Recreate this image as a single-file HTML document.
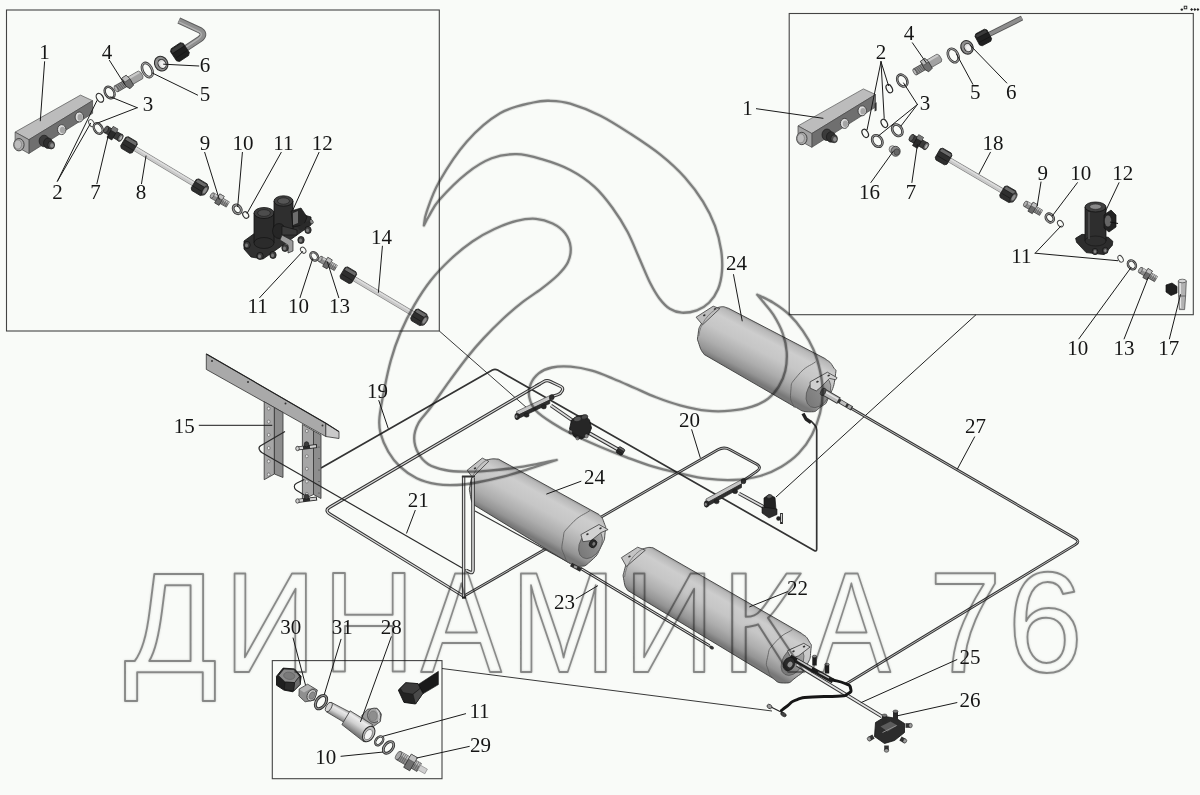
<!DOCTYPE html>
<html lang="ru">
<head>
<meta charset="utf-8">
<title>Схема пневмопривода — ДИНАМИКА 76</title>
<style>
html,body{margin:0;padding:0;background:#f9fbf8;}
body{width:1200px;height:795px;overflow:hidden;}
svg{display:block;will-change:transform;}
text.n{font-family:"Liberation Serif","Times New Roman",serif;fill:#151515;text-anchor:middle;}
.wm text{font-family:"Liberation Sans",Arial,sans-serif;fill:none;vector-effect:non-scaling-stroke;}
.wm text.wh{stroke:#000;stroke-opacity:.10;stroke-width:4.2;stroke-linejoin:round;}
.wm text.wl{stroke:#1c1c1c;stroke-opacity:.46;stroke-width:2.0;stroke-linejoin:round;filter:drop-shadow(0 0 0.9px rgba(0,0,0,.35));}
</style>
</head>
<body>
<svg width="1200" height="795" viewBox="0 0 1200 795">
<defs><linearGradient id="g1" gradientUnits="userSpaceOnUse" x1="728.3" y1="308.2" x2="704.2" y2="354.5"><stop offset="0" stop-color="#9a9a9a"/><stop offset="0.05" stop-color="#b8b8b8"/><stop offset="0.2" stop-color="#cdcdcd"/><stop offset="0.45" stop-color="#c6c6c6"/><stop offset="0.72" stop-color="#adadad"/><stop offset="0.9" stop-color="#949494"/><stop offset="1" stop-color="#787878"/></linearGradient><linearGradient id="g2" gradientUnits="userSpaceOnUse" x1="826.1" y1="377.6" x2="810.7" y2="406.8"><stop offset="0" stop-color="#aaaaaa"/><stop offset="0.45" stop-color="#8a8a8a"/><stop offset="1" stop-color="#777777"/></linearGradient><linearGradient id="g3" gradientUnits="userSpaceOnUse" x1="498.4" y1="459.1" x2="473.4" y2="504.5"><stop offset="0" stop-color="#9a9a9a"/><stop offset="0.05" stop-color="#b8b8b8"/><stop offset="0.2" stop-color="#cdcdcd"/><stop offset="0.45" stop-color="#c6c6c6"/><stop offset="0.72" stop-color="#adadad"/><stop offset="0.9" stop-color="#949494"/><stop offset="1" stop-color="#787878"/></linearGradient><linearGradient id="g4" gradientUnits="userSpaceOnUse" x1="598.2" y1="530.8" x2="582.8" y2="557.6"><stop offset="0" stop-color="#aaaaaa"/><stop offset="0.45" stop-color="#8a8a8a"/><stop offset="1" stop-color="#777777"/></linearGradient><linearGradient id="g5" gradientUnits="userSpaceOnUse" x1="652.8" y1="547.7" x2="628.1" y2="590.6"><stop offset="0" stop-color="#9a9a9a"/><stop offset="0.05" stop-color="#b8b8b8"/><stop offset="0.2" stop-color="#cdcdcd"/><stop offset="0.45" stop-color="#c6c6c6"/><stop offset="0.72" stop-color="#adadad"/><stop offset="0.9" stop-color="#949494"/><stop offset="1" stop-color="#787878"/></linearGradient><linearGradient id="g6" gradientUnits="userSpaceOnUse" x1="800" y1="648.5" x2="785" y2="674.5"><stop offset="0" stop-color="#aaaaaa"/><stop offset="0.45" stop-color="#8a8a8a"/><stop offset="1" stop-color="#777777"/></linearGradient><linearGradient id="g7" gradientUnits="userSpaceOnUse" x1="331.3" y1="702.4" x2="326.4" y2="711.4"><stop offset="0" stop-color="#a8a8a8"/><stop offset="0.25" stop-color="#e9e9e9"/><stop offset="0.6" stop-color="#d2d2d2"/><stop offset="1" stop-color="#8c8c8c"/></linearGradient><linearGradient id="g8" gradientUnits="userSpaceOnUse" x1="352" y1="710.5" x2="342.5" y2="725"><stop offset="0" stop-color="#a0a0a0"/><stop offset="0.22" stop-color="#ececec"/><stop offset="0.55" stop-color="#d0d0d0"/><stop offset="0.85" stop-color="#9a9a9a"/><stop offset="1" stop-color="#7a7a7a"/></linearGradient></defs>
<rect width="1200" height="795" fill="#f9fbf8"/>
<rect x="6.5" y="10" width="432.8" height="321" fill="none" stroke="#444" stroke-width="1.1"/>
<rect x="789.2" y="13.5" width="404.1" height="301.2" fill="none" stroke="#444" stroke-width="1.1"/>
<rect x="272.3" y="660.6" width="169.7" height="118.1" fill="none" stroke="#444" stroke-width="1.1"/>
<line x1="439.3" y1="331" x2="527" y2="408" stroke="#222" stroke-width="0.9" />
<line x1="976" y1="314.7" x2="776" y2="497" stroke="#222" stroke-width="1.0" />
<line x1="442" y1="668.5" x2="772" y2="711" stroke="#222" stroke-width="0.9" />
<path d="M321 468 L492.4 370.1 Q495 368.6 497.6 370.1 L814.1 550.5 Q816.7 552 816.7 549 L816.7 430 Q816.7 427 814.6 424.8 L811 421" fill="none" stroke="#333" stroke-width="1.7" stroke-linejoin="round"/>
<path d="M540 383.8 L330 507 Q324 510.5 330 514.2 L464 596.5" fill="none" stroke="#333" stroke-width="3.2" stroke-linejoin="round" stroke-linecap="butt"/>
<path d="M540 383.8 L330 507 Q324 510.5 330 514.2 L464 596.5" fill="none" stroke="#dcdcdc" stroke-width="1.2" stroke-linejoin="round" stroke-linecap="butt"/>
<path d="M464 596 L717.9 449.8 Q724 446.3 730.1 449.7 L756.4 464.1 Q762.5 467.5 756.7 471.4 L741.5 481.8" fill="none" stroke="#333" stroke-width="2.8" stroke-linejoin="round" stroke-linecap="butt"/>
<path d="M464 596 L717.9 449.8 Q724 446.3 730.1 449.7 L756.4 464.1 Q762.5 467.5 756.7 471.4 L741.5 481.8" fill="none" stroke="#dcdcdc" stroke-width="0.8" stroke-linejoin="round" stroke-linecap="butt"/>
<path d="M475 511 L570 563" fill="none" stroke="#333" stroke-width="1.2" />
<path d="M851 408.3 L1075.3 538.5 Q1080.5 541.5 1075.4 544.6 L846 684" fill="none" stroke="#333" stroke-width="2.8" stroke-linejoin="round" stroke-linecap="butt"/>
<path d="M851 408.3 L1075.3 538.5 Q1080.5 541.5 1075.4 544.6 L846 684" fill="none" stroke="#dcdcdc" stroke-width="0.8" stroke-linejoin="round" stroke-linecap="butt"/>
<polygon points="206.3,353.9 325.8,423.2 325.8,436.5 206.3,369.4" fill="#a9a9a9" stroke="#333" stroke-width="0.8" stroke-linejoin="round" />
<polygon points="325.8,423.2 339,431.6 339,438.5 325.8,436.5" fill="#c9c9c9" stroke="#333" stroke-width="0.8" stroke-linejoin="round" />
<path d="M206.3 353.9 L325.8 423.2 L339 431.6" fill="none" stroke="#222" stroke-width="1.1" />
<ellipse cx="212" cy="361" rx="1" ry="1" transform="rotate(0 212 361)" fill="#333" stroke="none" stroke-width="0" />
<ellipse cx="248" cy="382" rx="1" ry="1" transform="rotate(0 248 382)" fill="#333" stroke="none" stroke-width="0" />
<ellipse cx="285.5" cy="403.5" rx="1" ry="1" transform="rotate(0 285.5 403.5)" fill="#333" stroke="none" stroke-width="0" />
<ellipse cx="322.5" cy="425.5" rx="1" ry="1" transform="rotate(0 322.5 425.5)" fill="#333" stroke="none" stroke-width="0" />
<polygon points="264.2,401.7 274.4,407.5 274.4,474 264.2,479.7" fill="#a6a6a6" stroke="#333" stroke-width="0.8" stroke-linejoin="round" />
<polygon points="274.4,407.5 283,412.5 283,477.5 274.4,474" fill="#8d8d8d" stroke="#333" stroke-width="0.8" stroke-linejoin="round" />
<ellipse cx="268.7" cy="408.5" rx="1.4" ry="1.6" transform="rotate(0 268.7 408.5)" fill="#e6e6e6" stroke="#444" stroke-width="0.5" />
<ellipse cx="268.7" cy="421.7" rx="1.4" ry="1.6" transform="rotate(0 268.7 421.7)" fill="#e6e6e6" stroke="#444" stroke-width="0.5" />
<ellipse cx="268.7" cy="434.9" rx="1.4" ry="1.6" transform="rotate(0 268.7 434.9)" fill="#e6e6e6" stroke="#444" stroke-width="0.5" />
<ellipse cx="268.7" cy="448.1" rx="1.4" ry="1.6" transform="rotate(0 268.7 448.1)" fill="#e6e6e6" stroke="#444" stroke-width="0.5" />
<ellipse cx="268.7" cy="461.3" rx="1.4" ry="1.6" transform="rotate(0 268.7 461.3)" fill="#e6e6e6" stroke="#444" stroke-width="0.5" />
<ellipse cx="268.7" cy="474.5" rx="1.4" ry="1.6" transform="rotate(0 268.7 474.5)" fill="#e6e6e6" stroke="#444" stroke-width="0.5" />
<polygon points="302.4,424.4 313.5,430.8 313.5,494.5 302.4,499.7" fill="#a6a6a6" stroke="#333" stroke-width="0.8" stroke-linejoin="round" />
<polygon points="313.5,430.8 321,435 321,498.5 313.5,494.5" fill="#8d8d8d" stroke="#333" stroke-width="0.8" stroke-linejoin="round" />
<ellipse cx="306.8" cy="431" rx="1.4" ry="1.6" transform="rotate(0 306.8 431)" fill="#e6e6e6" stroke="#444" stroke-width="0.5" />
<ellipse cx="306.8" cy="443.6" rx="1.4" ry="1.6" transform="rotate(0 306.8 443.6)" fill="#e6e6e6" stroke="#444" stroke-width="0.5" />
<ellipse cx="306.8" cy="456.2" rx="1.4" ry="1.6" transform="rotate(0 306.8 456.2)" fill="#e6e6e6" stroke="#444" stroke-width="0.5" />
<ellipse cx="306.8" cy="468.8" rx="1.4" ry="1.6" transform="rotate(0 306.8 468.8)" fill="#e6e6e6" stroke="#444" stroke-width="0.5" />
<ellipse cx="306.8" cy="481.4" rx="1.4" ry="1.6" transform="rotate(0 306.8 481.4)" fill="#e6e6e6" stroke="#444" stroke-width="0.5" />
<ellipse cx="306.8" cy="494" rx="1.4" ry="1.6" transform="rotate(0 306.8 494)" fill="#e6e6e6" stroke="#444" stroke-width="0.5" />
<ellipse cx="319" cy="447" rx="0.6" ry="0.6" transform="rotate(0 319 447)" fill="#333" stroke="none" stroke-width="0" />
<ellipse cx="319" cy="458.5" rx="0.6" ry="0.6" transform="rotate(0 319 458.5)" fill="#333" stroke="none" stroke-width="0" />
<ellipse cx="319" cy="470" rx="0.6" ry="0.6" transform="rotate(0 319 470)" fill="#333" stroke="none" stroke-width="0" />
<ellipse cx="319" cy="481.5" rx="0.6" ry="0.6" transform="rotate(0 319 481.5)" fill="#333" stroke="none" stroke-width="0" />
<ellipse cx="319" cy="493" rx="0.6" ry="0.6" transform="rotate(0 319 493)" fill="#333" stroke="none" stroke-width="0" />
<path d="M304.3 479.4 L296.5 483.2 Q294.3 484.2 294.3 486.6 L294.3 486.6 Q294.3 489 296.4 490.2 L304.3 495" fill="none" stroke="#222" stroke-width="1.1" />
<line x1="297" y1="448.5" x2="317" y2="446" stroke="#2a2a2a" stroke-width="4.2" />
<line x1="298" y1="448.3" x2="303" y2="447.7" stroke="#d9d9d9" stroke-width="2.4" />
<line x1="310" y1="446.9" x2="316" y2="446.1" stroke="#cfcfcf" stroke-width="2.4" />
<ellipse cx="306.5" cy="444.3" rx="2.3" ry="2.6" transform="rotate(0 306.5 444.3)" fill="#3a3a3a" stroke="#111" stroke-width="0.5" />
<ellipse cx="297.5" cy="448.5" rx="1.8" ry="2.2" transform="rotate(0 297.5 448.5)" fill="#cfcfcf" stroke="#222" stroke-width="0.7" />
<line x1="297" y1="501" x2="317" y2="498.5" stroke="#2a2a2a" stroke-width="4.2" />
<line x1="298" y1="500.8" x2="303" y2="500.2" stroke="#d9d9d9" stroke-width="2.4" />
<line x1="310" y1="499.4" x2="316" y2="498.6" stroke="#cfcfcf" stroke-width="2.4" />
<ellipse cx="306.5" cy="496.8" rx="2.3" ry="2.6" transform="rotate(0 306.5 496.8)" fill="#3a3a3a" stroke="#111" stroke-width="0.5" />
<ellipse cx="297.5" cy="501" rx="1.8" ry="2.2" transform="rotate(0 297.5 501)" fill="#cfcfcf" stroke="#222" stroke-width="0.7" />
<path d="M285 431.6 L260.6 445.8 Q258.5 447 259.2 449.2 L259.2 449.2 Q260 451.5 262.1 452.7 L300 474.5" fill="none" stroke="#2a2a2a" stroke-width="1.2" />
<path d="M728.3 308.2 L824.9 358.5 C828.6 361.7 829.6 360.6 833 366.6 C836.4 372.6 836.5 366.6 835.2 376.6 C833.9 386.6 833.8 386.6 829 396.7 C824.2 406.8 827.6 401.8 820.9 406.8 C814.2 411.8 817.5 411.8 808.8 411.8 C800.1 411.8 800.3 409 794.7 406.8 L704.2 354.5 C701.6 350.6 701.1 351.1 699.1 344.4 C697.1 337.7 697.1 341.7 698.1 334.3 C699.1 326.9 698.1 329.7 702.1 322.3 C706.1 314.9 704.5 317.2 710.2 312.2 C715.9 307.2 713.3 308.5 719.3 307.2 C725.3 305.9 724.3 307.4 728.3 308.2Z" fill="url(#g1)" stroke="#3c3c3c" stroke-width="0.9" stroke-linejoin="round"/>
<path d="M815.6 361.8 C809.6 366.4 806 365.5 797.7 375.6 C789.4 385.7 791.9 381.6 790.7 392.2 C789.5 402.8 793 402.4 794.2 407.5" fill="none" stroke="#5a5a5a" stroke-width="0.8" />
<ellipse cx="818.4" cy="392.2" rx="11" ry="16.5" transform="rotate(28 818.4 392.2)" fill="url(#g2)" stroke="#555" stroke-width="0.7" />
<polygon points="696.1,317.2 713.2,306.2 719.8,308.6 702.5,324.8" fill="#bdbdbd" stroke="#3a3a3a" stroke-width="0.8" stroke-linejoin="round" />
<ellipse cx="704.3" cy="315.3" rx="1.3" ry="0.9" transform="rotate(-20 704.3 315.3)" fill="#333" stroke="none" stroke-width="0" />
<ellipse cx="715" cy="309" rx="1.3" ry="0.9" transform="rotate(-20 715 309)" fill="#333" stroke="none" stroke-width="0" />
<path d="M719.3 307.2 C708 313 700 324 698.8 336" fill="none" stroke="#666" stroke-width="0.7" />
<polygon points="810.1,381.9 827.4,372.2 837.1,377.7 835.7,379.8 829.5,378.4 819.8,388.1 816.3,390.9 810.1,388.1" fill="#d0d0d0" stroke="#3a3a3a" stroke-width="0.8" stroke-linejoin="round" />
<ellipse cx="817.5" cy="381.7" rx="1.3" ry="0.9" transform="rotate(-20 817.5 381.7)" fill="#333" stroke="none" stroke-width="0" />
<ellipse cx="828.7" cy="375.5" rx="1.3" ry="0.9" transform="rotate(-20 828.7 375.5)" fill="#333" stroke="none" stroke-width="0" />
<line x1="823.9" y1="392.2" x2="839" y2="400.9" stroke="#3a3a3a" stroke-width="7.2" />
<line x1="824.5" y1="392.5" x2="838.4" y2="400.5" stroke="#b9b9b9" stroke-width="5.4" />
<line x1="824.5" y1="391.4" x2="838.4" y2="399.4" stroke="#e4e4e4" stroke-width="1.6" />
<line x1="838" y1="400.3" x2="852" y2="408.4" stroke="#333" stroke-width="4.6" />
<line x1="840.5" y1="401.7" x2="846" y2="404.9" stroke="#bdbdbd" stroke-width="3.2" />
<line x1="848" y1="406.1" x2="851" y2="407.8" stroke="#a9a9a9" stroke-width="3.2" />
<ellipse cx="823.2" cy="391.8" rx="2.4" ry="4" transform="rotate(28 823.2 391.8)" fill="#555" stroke="#222" stroke-width="0.6" />
<path d="M803 413.5 L806 419 L811 422.5" fill="none" stroke="#222" stroke-width="3.4" stroke-linejoin="round"/>
<path d="M498.4 459.1 L599 514.5 C601.7 517.7 602 516.5 604 522.5 C606 528.5 606.1 524.5 605.1 532.6 C604.1 540.7 605.7 537.3 601 546.7 C596.3 556.1 598.4 554.2 591 560.8 C583.6 567.4 586.3 565.7 578.9 566.4 C571.5 567.1 573.1 564.6 568.8 562.8 L473.2 504.4 C471.2 500.4 471.2 501 470.2 494.3 C469.2 487.6 468.9 491.7 470.2 484.3 C471.5 476.9 471.2 478.9 474.2 472.2 C477.2 465.5 475.3 468.2 479.3 464.2 C483.3 460.2 479.9 461.8 486.3 460.1 C492.7 458.4 493.4 458.9 498.4 459.1Z" fill="url(#g3)" stroke="#3c3c3c" stroke-width="0.9" stroke-linejoin="round"/>
<path d="M590 510.5 C583.6 515.2 579.9 514.5 570.8 524.5 C561.7 534.5 564.8 529.9 562.8 540.6 C560.8 551.3 562.1 549 564.8 556.7 C567.5 564.4 568.8 561.4 570.8 563.8" fill="none" stroke="#5a5a5a" stroke-width="0.8" />
<ellipse cx="590.5" cy="544.2" rx="10.5" ry="15.5" transform="rotate(30 590.5 544.2)" fill="url(#g4)" stroke="#555" stroke-width="0.7" />
<polygon points="467.2,470.2 482.3,458.1 488.8,461.3 472.5,477.5" fill="#c4c4c4" stroke="#3a3a3a" stroke-width="0.8" stroke-linejoin="round" />
<ellipse cx="475" cy="468.3" rx="1.3" ry="0.9" transform="rotate(-20 475 468.3)" fill="#333" stroke="none" stroke-width="0" />
<path d="M486.3 460.1 C477 466 471 476 470.6 487" fill="none" stroke="#666" stroke-width="0.7" />
<polygon points="580.9,534.6 599,524.5 608.1,529.6 601,532.6 591,540.6 582.9,541.7" fill="#d2d2d2" stroke="#3a3a3a" stroke-width="0.8" stroke-linejoin="round" />
<ellipse cx="587.5" cy="534.2" rx="1.3" ry="0.9" transform="rotate(-20 587.5 534.2)" fill="#333" stroke="none" stroke-width="0" />
<ellipse cx="600.5" cy="528.3" rx="1.3" ry="0.9" transform="rotate(-20 600.5 528.3)" fill="#333" stroke="none" stroke-width="0" />
<ellipse cx="593" cy="543.7" rx="3.6" ry="4.2" transform="rotate(30 593 543.7)" fill="#2a2a2a" stroke="#111" stroke-width="0.6" />
<ellipse cx="593.8" cy="543.9" rx="1.4" ry="1.8" transform="rotate(30 593.8 543.9)" fill="#777" stroke="none" stroke-width="0" />
<path d="M300 474.5 L466.5 570.6" fill="none" stroke="#2a2a2a" stroke-width="1.2" />
<path d="M466 570.3 L469.8 572.1 Q473 573.6 473 570.1 L473 478" fill="none" stroke="#333" stroke-width="3.6" stroke-linejoin="round" stroke-linecap="butt"/>
<path d="M466 570.3 L469.8 572.1 Q473 573.6 473 570.1 L473 478" fill="none" stroke="#dcdcdc" stroke-width="1.6" stroke-linejoin="round" stroke-linecap="butt"/>
<path d="M463.6 476 L463.6 597.5" fill="none" stroke="#333" stroke-width="3.4" stroke-linejoin="round" stroke-linecap="butt"/>
<path d="M463.6 476 L463.6 597.5" fill="none" stroke="#dcdcdc" stroke-width="1.4" stroke-linejoin="round" stroke-linecap="butt"/>
<line x1="461.9" y1="476.5" x2="475" y2="476.5" stroke="#333" stroke-width="2.0" />
<line x1="462" y1="597.6" x2="466" y2="597.6" stroke="#222" stroke-width="2.2" />
<path d="M580 568 L709.5 645.7" fill="none" stroke="#333" stroke-width="3.0" stroke-linejoin="round" stroke-linecap="butt"/>
<path d="M580 568 L709.5 645.7" fill="none" stroke="#dcdcdc" stroke-width="1" stroke-linejoin="round" stroke-linecap="butt"/>
<line x1="571" y1="564.5" x2="581" y2="570" stroke="#2a2a2a" stroke-width="4.2" />
<line x1="574" y1="566.2" x2="577" y2="567.8" stroke="#999" stroke-width="2.2" />
<path d="M652.8 547.7 L801.3 633.2 C805.3 636.6 805.6 634.9 808.8 640.8 C812 646.7 811.6 642.4 810.8 650.8 C810 659.2 811.2 657.1 806.3 665.9 C801.4 674.7 803.8 671.5 796.2 677.2 C788.6 682.9 792 683 783.6 683 C775.2 683 776.7 680 771.1 677.2 L627.7 590.4 C625 586.2 625 587.1 623.9 580.4 C622.8 573.7 622.7 577 624.4 570.3 C626.1 563.6 625.3 566.2 628.9 560.3 C632.5 554.4 630.6 556.5 635.2 552.7 C639.8 548.9 636.9 550.6 642.8 548.9 C648.7 547.2 648 547.2 652.8 547.7Z" fill="url(#g5)" stroke="#3c3c3c" stroke-width="0.9" stroke-linejoin="round"/>
<path d="M792.5 629.5 C786.8 633.7 783.8 632.7 775.5 642 C767.2 651.3 769.8 647.8 767.5 657.5 C765.2 667.2 766.7 664.2 768.5 671 C770.3 677.8 771.5 675.7 773 678" fill="none" stroke="#5a5a5a" stroke-width="0.8" />
<ellipse cx="792.5" cy="661.5" rx="10" ry="15" transform="rotate(30 792.5 661.5)" fill="url(#g6)" stroke="#555" stroke-width="0.7" />
<polygon points="621.4,557.7 637.7,547.2 645.3,550.2 626.4,566.5" fill="#c4c4c4" stroke="#3a3a3a" stroke-width="0.8" stroke-linejoin="round" />
<ellipse cx="629.5" cy="556.5" rx="1.3" ry="0.9" transform="rotate(-20 629.5 556.5)" fill="#333" stroke="none" stroke-width="0" />
<path d="M642.8 548.9 C633 554 626 565 624.6 577" fill="none" stroke="#666" stroke-width="0.7" />
<polygon points="787.4,650.8 803.8,643.3 810.1,647 798.7,655.8 791.2,658.4" fill="#d2d2d2" stroke="#3a3a3a" stroke-width="0.8" stroke-linejoin="round" />
<ellipse cx="793.5" cy="651.3" rx="1.3" ry="0.9" transform="rotate(-20 793.5 651.3)" fill="#333" stroke="none" stroke-width="0" />
<ellipse cx="804" cy="646.6" rx="1.3" ry="0.9" transform="rotate(-20 804 646.6)" fill="#333" stroke="none" stroke-width="0" />
<ellipse cx="711.5" cy="647.5" rx="2.6" ry="1.6" transform="rotate(30 711.5 647.5)" fill="#333" stroke="none" stroke-width="0" />
<line x1="790" y1="657" x2="833" y2="681" stroke="#1f1f1f" stroke-width="5.0" />
<line x1="797" y1="659.8" x2="812" y2="668.2" stroke="#c9c9c9" stroke-width="1.6" />
<line x1="818" y1="671.8" x2="829" y2="678" stroke="#bdbdbd" stroke-width="1.4" />
<line x1="814.5" y1="656.5" x2="814.5" y2="665.5" stroke="#1f1f1f" stroke-width="4.4" />
<ellipse cx="814.5" cy="656.5" rx="2.2" ry="1.3" transform="rotate(0 814.5 656.5)" fill="#8a8a8a" stroke="#111" stroke-width="0.5" />
<line x1="827" y1="664.5" x2="827" y2="673.5" stroke="#1f1f1f" stroke-width="4.4" />
<ellipse cx="827" cy="664.5" rx="2.2" ry="1.3" transform="rotate(0 827 664.5)" fill="#8a8a8a" stroke="#111" stroke-width="0.5" />
<ellipse cx="789" cy="664" rx="5.5" ry="7" transform="rotate(30 789 664)" fill="#2b2b2b" stroke="#111" stroke-width="0.6" />
<ellipse cx="790" cy="664.5" rx="2.3" ry="3" transform="rotate(30 790 664.5)" fill="#8d8d8d" stroke="none" stroke-width="0" />
<path d="M797 664.8 L882 716.5" fill="none" stroke="#333" stroke-width="3.8" stroke-linejoin="round" stroke-linecap="butt"/>
<path d="M797 664.8 L882 716.5" fill="none" stroke="#e4e4e4" stroke-width="1.8" stroke-linejoin="round" stroke-linecap="butt"/>
<path d="M833 680 C837 681.2 839.2 680.8 845 683.5 C850.8 686.2 849.7 684.5 850.5 688 C851.3 691.5 852 691.3 847.5 694 C843 696.7 848.6 695.2 837 696.2 C825.4 697.2 826 696 812.7 697.1 C799.4 698.2 805.7 696.7 797.2 699.6 C788.7 702.5 792.5 702.3 787.3 705.9 C782.1 709.5 783.4 709 781.5 710.5" fill="none" stroke="#161616" stroke-width="3.0" stroke-linecap="round"/>
<line x1="769" y1="706" x2="784" y2="713.5" stroke="#222" stroke-width="1.2" />
<ellipse cx="769.5" cy="706.5" rx="2.6" ry="2" transform="rotate(30 769.5 706.5)" fill="#9a9a9a" stroke="#222" stroke-width="0.7" />
<ellipse cx="783.5" cy="714.5" rx="3" ry="1.8" transform="rotate(30 783.5 714.5)" fill="#444" stroke="#111" stroke-width="0.6" />
<polygon points="875.5,722.5 885.5,716.5 896.5,718.5 904.5,723.5 904.5,732.5 894.5,740.5 884.5,743.5 874.5,736.5" fill="#2c2c2c" stroke="#111" stroke-width="0.8" stroke-linejoin="round" />
<line x1="884.5" y1="715.5" x2="884.5" y2="724.5" stroke="#2a2a2a" stroke-width="5.0" />
<ellipse cx="884.5" cy="715.5" rx="2.5" ry="1.5" transform="rotate(0 884.5 715.5)" fill="#7a7a7a" stroke="#111" stroke-width="0.5" />
<line x1="895.5" y1="711.5" x2="895.5" y2="720.5" stroke="#2a2a2a" stroke-width="5.0" />
<ellipse cx="895.5" cy="711.5" rx="2.5" ry="1.5" transform="rotate(0 895.5 711.5)" fill="#7a7a7a" stroke="#111" stroke-width="0.5" />
<line x1="873.5" y1="736.5" x2="869.2" y2="739" stroke="#333" stroke-width="4.6" />
<ellipse cx="869.2" cy="739" rx="1.8" ry="2.2" transform="rotate(150 869.2 739)" fill="#9c9c9c" stroke="#111" stroke-width="0.5" />
<line x1="886.5" y1="745.5" x2="886.5" y2="750.5" stroke="#333" stroke-width="4.6" />
<ellipse cx="886.5" cy="750.5" rx="1.8" ry="2.2" transform="rotate(90 886.5 750.5)" fill="#9c9c9c" stroke="#111" stroke-width="0.5" />
<line x1="900.5" y1="738.5" x2="904.8" y2="741" stroke="#333" stroke-width="4.6" />
<ellipse cx="904.8" cy="741" rx="1.8" ry="2.2" transform="rotate(30 904.8 741)" fill="#9c9c9c" stroke="#111" stroke-width="0.5" />
<line x1="905.5" y1="725.5" x2="910.5" y2="725.5" stroke="#333" stroke-width="4.6" />
<ellipse cx="910.5" cy="725.5" rx="1.8" ry="2.2" transform="rotate(0 910.5 725.5)" fill="#9c9c9c" stroke="#111" stroke-width="0.5" />
<polygon points="880.5,726.5 890.5,721.5 897.5,725.5 887.5,731.5" fill="#5c5c5c" stroke="none" stroke-width="0" stroke-linejoin="round" />
<line x1="882.5" y1="732.5" x2="896.5" y2="725.5" stroke="#8a8a8a" stroke-width="1.0" />
<path d="M536 386.2 L543.4 381.8 Q546.8 379.8 550.4 381.5 L560.6 386.4 Q563.6 387.8 562.2 390.8 L562.2 390.8 Q560.8 393.8 557.6 394.8 L551.5 396.6" fill="none" stroke="#333" stroke-width="3.2" stroke-linejoin="round" stroke-linecap="butt"/>
<path d="M536 386.2 L543.4 381.8 Q546.8 379.8 550.4 381.5 L560.6 386.4 Q563.6 387.8 562.2 390.8 L562.2 390.8 Q560.8 393.8 557.6 394.8 L551.5 396.6" fill="none" stroke="#dcdcdc" stroke-width="1.2" stroke-linejoin="round" stroke-linecap="butt"/>
<polygon points="516.6,411.4 549.8,395.6 549.8,400 516.6,415.8" fill="#c4c4c4" stroke="#333" stroke-width="0.6" stroke-linejoin="round" />
<polygon points="516.6,415.8 549.8,400 549.8,403.6 516.6,419.4" fill="#2f2f2f" stroke="#161616" stroke-width="0.6" stroke-linejoin="round" />
<ellipse cx="517.1" cy="416.4" rx="2.3" ry="3.2" transform="rotate(0 517.1 416.4)" fill="#2a2a2a" stroke="#111" stroke-width="0.5" />
<ellipse cx="516.4" cy="416.6" rx="1" ry="1.5" transform="rotate(0 516.4 416.6)" fill="#8a8a8a" stroke="none" stroke-width="0" />
<ellipse cx="526.6" cy="415.1" rx="2.6" ry="2.2" transform="rotate(0 526.6 415.1)" fill="#262626" stroke="#111" stroke-width="0.4" />
<ellipse cx="543.8" cy="406.8" rx="2.6" ry="2.2" transform="rotate(0 543.8 406.8)" fill="#262626" stroke="#111" stroke-width="0.4" />
<ellipse cx="551.8" cy="397.2" rx="2.4" ry="2.6" transform="rotate(0 551.8 397.2)" fill="#2f2f2f" stroke="#111" stroke-width="0.4" />
<path d="M551 405.5 L574 421.5" fill="none" stroke="#333" stroke-width="3.6" stroke-linejoin="round" stroke-linecap="butt"/>
<path d="M551 405.5 L574 421.5" fill="none" stroke="#dcdcdc" stroke-width="1.6" stroke-linejoin="round" stroke-linecap="butt"/>
<path d="M588 432.5 L619 450" fill="none" stroke="#333" stroke-width="3.8" stroke-linejoin="round" stroke-linecap="butt"/>
<path d="M588 432.5 L619 450" fill="none" stroke="#dcdcdc" stroke-width="1.8" stroke-linejoin="round" stroke-linecap="butt"/>
<polygon points="618.8,447.2 620.1,446.8 624.3,449.3 624.7,450.6 622.2,454.8 620.9,455.2 616.7,452.7 616.3,451.4" fill="#2e2e2e" stroke="#141414" stroke-width="0.8" stroke-linejoin="round" />
<polygon points="619.6,447.1 624.3,449.8 623.7,451.4 618.6,448.4" fill="#6a6a6a" stroke="none" stroke-width="0" stroke-linejoin="round" />
<line x1="618.5" y1="448.4" x2="623.8" y2="451.5" stroke="#111" stroke-width="0.6" />
<line x1="617.2" y1="450.5" x2="622.5" y2="453.6" stroke="#111" stroke-width="0.6" />
<polygon points="569.5,429 571.5,420 577.5,416 584.5,415 589.5,420 591.5,428 588.5,435 581.5,439 574.5,437" fill="#262626" stroke="#101010" stroke-width="0.8" stroke-linejoin="round" />
<ellipse cx="577.5" cy="419" rx="4" ry="2.6" transform="rotate(-15 577.5 419)" fill="#555" stroke="#111" stroke-width="0.5" />
<ellipse cx="584.5" cy="417" rx="3.4" ry="2.2" transform="rotate(-15 584.5 417)" fill="#4a4a4a" stroke="#111" stroke-width="0.5" />
<ellipse cx="570.5" cy="432" rx="1.8" ry="2" transform="rotate(0 570.5 432)" fill="#888" stroke="#111" stroke-width="0.4" />
<ellipse cx="577.5" cy="438" rx="1.8" ry="2" transform="rotate(0 577.5 438)" fill="#888" stroke="#111" stroke-width="0.4" />
<ellipse cx="586.5" cy="436" rx="1.8" ry="2" transform="rotate(0 586.5 436)" fill="#888" stroke="#111" stroke-width="0.4" />
<polygon points="706,499 741.5,479.6 741.5,484 706,503.4" fill="#c4c4c4" stroke="#333" stroke-width="0.6" stroke-linejoin="round" />
<polygon points="706,503.4 741.5,484 741.5,487.6 706,507" fill="#2f2f2f" stroke="#161616" stroke-width="0.6" stroke-linejoin="round" />
<ellipse cx="706.5" cy="504" rx="2.3" ry="3.2" transform="rotate(0 706.5 504)" fill="#2a2a2a" stroke="#111" stroke-width="0.5" />
<ellipse cx="705.8" cy="504.2" rx="1" ry="1.5" transform="rotate(0 705.8 504.2)" fill="#8a8a8a" stroke="none" stroke-width="0" />
<ellipse cx="716.6" cy="501.6" rx="2.6" ry="2.2" transform="rotate(0 716.6 501.6)" fill="#262626" stroke="#111" stroke-width="0.4" />
<ellipse cx="735.1" cy="491.5" rx="2.6" ry="2.2" transform="rotate(0 735.1 491.5)" fill="#262626" stroke="#111" stroke-width="0.4" />
<ellipse cx="743.5" cy="481.2" rx="2.4" ry="2.6" transform="rotate(0 743.5 481.2)" fill="#2f2f2f" stroke="#111" stroke-width="0.4" />
<path d="M739 493.5 L763.5 506.8" fill="none" stroke="#333" stroke-width="3.6" stroke-linejoin="round" stroke-linecap="butt"/>
<path d="M739 493.5 L763.5 506.8" fill="none" stroke="#dcdcdc" stroke-width="1.6" stroke-linejoin="round" stroke-linecap="butt"/>
<polygon points="764,498 769,494.5 775,497.5 776,510 770,514 764,510.5" fill="#222" stroke="#111" stroke-width="0.7" stroke-linejoin="round" />
<polygon points="762,507 777,509 777,514.5 769,518 762,513" fill="#2d2d2d" stroke="#111" stroke-width="0.6" stroke-linejoin="round" />
<ellipse cx="769.5" cy="496.5" rx="2.8" ry="1.8" transform="rotate(-10 769.5 496.5)" fill="#5a5a5a" stroke="#111" stroke-width="0.4" />
<line x1="781.5" y1="513" x2="781.5" y2="524" stroke="#2a2a2a" stroke-width="2.8" />
<line x1="781.5" y1="514" x2="781.5" y2="522" stroke="#cfcfcf" stroke-width="1.0" />
<ellipse cx="778.5" cy="518.5" rx="2.2" ry="2.2" transform="rotate(0 778.5 518.5)" fill="#222" stroke="none" stroke-width="0" />
<path d="M184 49.5 L199.5 39.2 Q206 34.6 200.5 30.6 L178.8 20.6" fill="none" stroke="#5d5d5d" stroke-width="6.6" stroke-linecap="butt" stroke-linejoin="round"/>
<path d="M184 49.5 L199.5 39.2 Q206 34.6 200.5 30.6 L178.8 20.6" fill="none" stroke="#8f8f8f" stroke-width="4.8" stroke-linecap="butt" stroke-linejoin="round"/>
<path d="M184 48.4 L198.6 38.6 Q203.6 34.8 199.6 31.8 L179.2 22.0" fill="none" stroke="#b2b2b2" stroke-width="1.3" />
<polygon points="170.5,51.7 171.2,48.7 180.3,42.7 183.3,43.4 189.3,52.5 188.6,55.5 179.5,61.5 176.5,60.8" fill="#1f1f1f" stroke="#141414" stroke-width="0.8" stroke-linejoin="round" />
<polygon points="171.2,49.9 181.4,43.3 183.9,46 172.7,53.3" fill="#3b3b3b" stroke="none" stroke-width="0" stroke-linejoin="round" />
<line x1="172.7" y1="53.5" x2="184.1" y2="46.1" stroke="#111" stroke-width="0.6" />
<line x1="175.7" y1="58.1" x2="187.1" y2="50.7" stroke="#111" stroke-width="0.6" />
<ellipse cx="161.2" cy="63.6" rx="6.5" ry="7.6" transform="rotate(-28 161.2 63.6)" fill="#8f8f8f" stroke="#2e2e2e" stroke-width="1.1" />
<ellipse cx="162" cy="63.9" rx="3.8" ry="4.7" transform="rotate(-28 162 63.9)" fill="#d9d9d9" stroke="#333" stroke-width="0.9" />
<ellipse cx="162.8" cy="64.4" rx="2.4" ry="3.2" transform="rotate(-28 162.8 64.4)" fill="#f0f0f0" stroke="none" stroke-width="0" />
<ellipse cx="147.3" cy="70" rx="4.6" ry="7.6" transform="rotate(-28 147.3 70)" fill="none" stroke="#333" stroke-width="2.6" />
<ellipse cx="147.3" cy="70" rx="4.6" ry="7.6" transform="rotate(-28 147.3 70)" fill="none" stroke="#a9a9a9" stroke-width="1.0" />
<polygon points="127.5,77.3 138.3,71 140.8,72.4 143,76.2 142.7,78.7 131.9,84.9" fill="#a2a2a2" stroke="#4a4a4a" stroke-width="0.7" stroke-linejoin="round" />
<polygon points="127.7,77.6 138.5,71.4 140,73 128.8,79.5" fill="#c9c9c9" stroke="none" stroke-width="0" stroke-linejoin="round" />
<polygon points="114.5,85.9 124.5,80.2 127.9,86 117.9,91.8" fill="#8a8a8a" stroke="#3c3c3c" stroke-width="0.7" stroke-linejoin="round" />
<line x1="115.8" y1="85.2" x2="119.9" y2="90.6" stroke="#444" stroke-width="0.6" />
<line x1="117.6" y1="84.2" x2="121.7" y2="89.6" stroke="#444" stroke-width="0.6" />
<line x1="119.3" y1="83.2" x2="123.4" y2="88.6" stroke="#444" stroke-width="0.6" />
<line x1="121" y1="82.2" x2="125.1" y2="87.6" stroke="#444" stroke-width="0.6" />
<ellipse cx="116.2" cy="88.8" rx="1.4" ry="3.4" transform="rotate(-30 116.2 88.8)" fill="#b5b5b5" stroke="#3c3c3c" stroke-width="0.6" />
<polygon points="121.7,78.3 126.1,75.3 129.9,78.7 133.6,85.1 130,88.7 125.9,86.2" fill="#6f6f6f" stroke="#2a2a2a" stroke-width="0.8" stroke-linejoin="round" />
<polygon points="121.7,78.3 126.1,75.3 129.9,78.7 125,82.1" fill="#bdbdbd" stroke="#2a2a2a" stroke-width="0.5" stroke-linejoin="round" />
<ellipse cx="109.6" cy="92.5" rx="4.4" ry="6.2" transform="rotate(-32 109.6 92.5)" fill="none" stroke="#303030" stroke-width="2.4" />
<ellipse cx="109.6" cy="92.5" rx="4.4" ry="6.2" transform="rotate(-32 109.6 92.5)" fill="none" stroke="#9b9b9b" stroke-width="0.8" />
<ellipse cx="99.9" cy="97.8" rx="3.2" ry="4.8" transform="rotate(-32 99.9 97.8)" fill="none" stroke="#2a2a2a" stroke-width="1.2" />
<polygon points="15.1,132.1 80.5,95.1 92.6,100.7 28.9,139.7" fill="#bcbcbc" stroke="#555" stroke-width="0.7" stroke-linejoin="round" />
<polygon points="28.9,139.7 92.6,100.7 92.6,113.3 28.9,153.5" fill="#6f6f6f" stroke="#444" stroke-width="0.7" stroke-linejoin="round" />
<polygon points="15.1,132.1 28.9,139.7 28.9,153.5 15.1,145.9" fill="#a3a3a3" stroke="#444" stroke-width="0.7" stroke-linejoin="round" />
<ellipse cx="18.9" cy="144.7" rx="5.2" ry="6.2" transform="rotate(0 18.9 144.7)" fill="#a8a8a8" stroke="#3a3a3a" stroke-width="0.9" />
<ellipse cx="17.9" cy="144.5" rx="3.6" ry="4.6" transform="rotate(0 17.9 144.5)" fill="#bdbdbd" stroke="#666" stroke-width="0.5" />
<ellipse cx="61.7" cy="129.6" rx="4.2" ry="5" transform="rotate(0 61.7 129.6)" fill="#dcdcdc" stroke="#3a3a3a" stroke-width="0.9" />
<ellipse cx="79.3" cy="117" rx="4.2" ry="5" transform="rotate(0 79.3 117)" fill="#dcdcdc" stroke="#3a3a3a" stroke-width="0.9" />
<ellipse cx="62.5" cy="130" rx="2.6" ry="3.3" transform="rotate(0 62.5 130)" fill="#a5a5a5" stroke="none" stroke-width="0" />
<ellipse cx="80.1" cy="117.4" rx="2.6" ry="3.3" transform="rotate(0 80.1 117.4)" fill="#a5a5a5" stroke="none" stroke-width="0" />
<ellipse cx="44.1" cy="141" rx="5" ry="5.8" transform="rotate(0 44.1 141)" fill="#3b3b3b" stroke="#1a1a1a" stroke-width="0.7" />
<ellipse cx="48.1" cy="143.2" rx="4.6" ry="5.2" transform="rotate(0 48.1 143.2)" fill="#2f2f2f" stroke="#1a1a1a" stroke-width="0.7" />
<ellipse cx="51.2" cy="145" rx="3.4" ry="4" transform="rotate(0 51.2 145)" fill="#4a4a4a" stroke="#1a1a1a" stroke-width="0.7" />
<ellipse cx="52" cy="145.4" rx="1.8" ry="2.2" transform="rotate(0 52 145.4)" fill="#8c8c8c" stroke="none" stroke-width="0" />
<ellipse cx="91.5" cy="123.2" rx="2.4" ry="3.8" transform="rotate(-30 91.5 123.2)" fill="none" stroke="#555" stroke-width="1.0" />
<ellipse cx="98.2" cy="128.5" rx="3.9" ry="5.6" transform="rotate(-32 98.2 128.5)" fill="none" stroke="#303030" stroke-width="2.4" />
<ellipse cx="98.2" cy="128.5" rx="3.9" ry="5.6" transform="rotate(-32 98.2 128.5)" fill="none" stroke="#9b9b9b" stroke-width="0.8" />
<polygon points="107.9,126.4 122.2,134.6 118.6,140.9 104.3,132.6" fill="#3a3a3a" stroke="#161616" stroke-width="0.7" stroke-linejoin="round" />
<ellipse cx="106.1" cy="129.5" rx="2" ry="3.8" transform="rotate(30 106.1 129.5)" fill="#5a5a5a" stroke="#161616" stroke-width="0.6" />
<polygon points="113.2,126.4 118,129.2 111.8,140 107,137.2" fill="#2a2a2a" stroke="#111" stroke-width="0.7" stroke-linejoin="round" />
<polygon points="113.2,126.4 118,129.2 116,132.7 111.2,129.9" fill="#777" stroke="none" stroke-width="0" stroke-linejoin="round" />
<ellipse cx="120.4" cy="137.8" rx="2.2" ry="4" transform="rotate(30 120.4 137.8)" fill="#666" stroke="#161616" stroke-width="0.6" />
<ellipse cx="120.8" cy="138" rx="1" ry="2.2" transform="rotate(30 120.8 138)" fill="#b5b5b5" stroke="none" stroke-width="0" />
<line x1="129" y1="145" x2="199.5" y2="187.2" stroke="#7d7d7d" stroke-width="5.4"/>
<line x1="129" y1="145" x2="199.5" y2="187.2" stroke="#c9c9c9" stroke-width="4.1"/>
<line x1="129.5" y1="144.2" x2="200" y2="186.4" stroke="#dedede" stroke-width="1.4"/>
<polygon points="125.7,137.3 128.3,136.7 136.7,141.7 137.3,144.3 132.3,152.7 129.7,153.3 121.3,148.3 120.7,145.7" fill="#2e2e2e" stroke="#141414" stroke-width="0.8" stroke-linejoin="round" />
<polygon points="127.3,137.2 136.7,142.8 135.5,145.9 125.2,139.7" fill="#6a6a6a" stroke="none" stroke-width="0" stroke-linejoin="round" />
<line x1="125" y1="139.8" x2="135.5" y2="146" stroke="#111" stroke-width="0.6" />
<line x1="122.5" y1="144" x2="133" y2="150.2" stroke="#111" stroke-width="0.6" />
<polygon points="196.2,179.5 198.8,178.9 207.2,183.9 207.8,186.5 202.8,194.9 200.2,195.5 191.8,190.5 191.2,187.9" fill="#2e2e2e" stroke="#141414" stroke-width="0.8" stroke-linejoin="round" />
<polygon points="197.8,179.4 207.2,185 206,188.1 195.7,181.9" fill="#6a6a6a" stroke="none" stroke-width="0" stroke-linejoin="round" />
<line x1="195.5" y1="182" x2="206" y2="188.2" stroke="#111" stroke-width="0.6" />
<line x1="193" y1="186.2" x2="203.5" y2="192.4" stroke="#111" stroke-width="0.6" />
<ellipse cx="205" cy="190.5" rx="2.4" ry="5.3" transform="rotate(30.9 205 190.5)" fill="#555" stroke="#141414" stroke-width="0.6" />
<ellipse cx="205" cy="190.5" rx="1.4" ry="3.1" transform="rotate(30.9 205 190.5)" fill="#8d8d8d" stroke="none" stroke-width="0" />
<polygon points="213.7,192.9 229.3,201.9 226.3,207.1 210.7,198.1" fill="#8c8c8c" stroke="#3a3a3a" stroke-width="0.7" stroke-linejoin="round" />
<polygon points="213.7,192.9 229.3,201.9 228.2,203.8 212.6,194.8" fill="#c6c6c6" stroke="none" stroke-width="0" stroke-linejoin="round" />
<line x1="224.5" y1="199.2" x2="221.5" y2="204.3" stroke="#444" stroke-width="0.6" />
<line x1="226.3" y1="200.2" x2="223.3" y2="205.3" stroke="#444" stroke-width="0.6" />
<line x1="228" y1="201.2" x2="225" y2="206.3" stroke="#444" stroke-width="0.6" />
<polygon points="219.8,193.9 224.2,196.4 219,205.4 214.6,202.9" fill="#6a6a6a" stroke="#2a2a2a" stroke-width="0.7" stroke-linejoin="round" />
<polygon points="219.8,193.9 224.2,196.4 222.2,199.9 217.8,197.4" fill="#bfbfbf" stroke="#2a2a2a" stroke-width="0.4" stroke-linejoin="round" />
<ellipse cx="212.2" cy="195.5" rx="1.6" ry="3" transform="rotate(30 212.2 195.5)" fill="#b0b0b0" stroke="#3a3a3a" stroke-width="0.6" />
<ellipse cx="237.2" cy="209.3" rx="3.6" ry="4.7" transform="rotate(-35 237.2 209.3)" fill="none" stroke="#303030" stroke-width="2.9" />
<ellipse cx="237.2" cy="209.3" rx="3.6" ry="4.7" transform="rotate(-35 237.2 209.3)" fill="none" stroke="#9b9b9b" stroke-width="1.3" />
<ellipse cx="245.7" cy="215" rx="2.6" ry="3.5" transform="rotate(-35 245.7 215)" fill="none" stroke="#333" stroke-width="1.2" />
<polygon points="244,241 255,233 297,213 311,217 311,225 283,245 263,259 251,257 244,249" fill="#303030" stroke="#111" stroke-width="0.8" stroke-linejoin="round" />
<polygon points="254,213 274,213 274,243 254,243" fill="#2b2b2b" stroke="#111" stroke-width="0.8" stroke-linejoin="round" />
<ellipse cx="264" cy="243" rx="10" ry="5.5" transform="rotate(0 264 243)" fill="#2b2b2b" stroke="#111" stroke-width="0.6" />
<ellipse cx="264" cy="213" rx="10" ry="5.5" transform="rotate(0 264 213)" fill="#3d3d3d" stroke="#111" stroke-width="0.8" />
<ellipse cx="264" cy="213" rx="6.4" ry="3.4" transform="rotate(0 264 213)" fill="#4c4c4c" stroke="#1a1a1a" stroke-width="0.6" />
<polygon points="274,201 293,201 293,229 274,229" fill="#2f2f2f" stroke="#111" stroke-width="0.8" stroke-linejoin="round" />
<ellipse cx="283.5" cy="201" rx="9.5" ry="5.2" transform="rotate(0 283.5 201)" fill="#414141" stroke="#111" stroke-width="0.8" />
<ellipse cx="283.5" cy="201" rx="6" ry="3.2" transform="rotate(0 283.5 201)" fill="#555" stroke="#1a1a1a" stroke-width="0.6" />
<polygon points="291,211 301,208 307,217 304,225 293,227" fill="#262626" stroke="#111" stroke-width="0.7" stroke-linejoin="round" />
<polygon points="293,213 298,211 298,223 293,225" fill="#6c6c6c" stroke="none" stroke-width="0" stroke-linejoin="round" />
<ellipse cx="279" cy="231" rx="6.5" ry="7.5" transform="rotate(0 279 231)" fill="#262626" stroke="#111" stroke-width="0.6" />
<polygon points="282,226 297,230 297,235 282,235" fill="#3a3a3a" stroke="#111" stroke-width="0.6" stroke-linejoin="round" />
<line x1="299" y1="229" x2="311" y2="222" stroke="#2a2a2a" stroke-width="4.4" />
<ellipse cx="311.5" cy="221.7" rx="1.6" ry="2.3" transform="rotate(-30 311.5 221.7)" fill="#8c8c8c" stroke="#111" stroke-width="0.5" />
<polygon points="282,235 293,241 293,251 288,253 288,245 280,240" fill="#9c9c9c" stroke="#222" stroke-width="0.7" stroke-linejoin="round" />
<ellipse cx="247" cy="245" rx="3.2" ry="3.6" transform="rotate(0 247 245)" fill="#3e3e3e" stroke="#0e0e0e" stroke-width="0.7" />
<ellipse cx="246.5" cy="245.4" rx="1.5" ry="1.8" transform="rotate(0 246.5 245.4)" fill="#7a7a7a" stroke="none" stroke-width="0" />
<ellipse cx="260" cy="256" rx="3.2" ry="3.6" transform="rotate(0 260 256)" fill="#3e3e3e" stroke="#0e0e0e" stroke-width="0.7" />
<ellipse cx="259.5" cy="256.4" rx="1.5" ry="1.8" transform="rotate(0 259.5 256.4)" fill="#7a7a7a" stroke="none" stroke-width="0" />
<ellipse cx="273" cy="255" rx="3.2" ry="3.6" transform="rotate(0 273 255)" fill="#3e3e3e" stroke="#0e0e0e" stroke-width="0.7" />
<ellipse cx="272.5" cy="255.4" rx="1.5" ry="1.8" transform="rotate(0 272.5 255.4)" fill="#7a7a7a" stroke="none" stroke-width="0" />
<ellipse cx="285" cy="248" rx="3.2" ry="3.6" transform="rotate(0 285 248)" fill="#3e3e3e" stroke="#0e0e0e" stroke-width="0.7" />
<ellipse cx="284.5" cy="248.4" rx="1.5" ry="1.8" transform="rotate(0 284.5 248.4)" fill="#7a7a7a" stroke="none" stroke-width="0" />
<ellipse cx="301" cy="240" rx="3.2" ry="3.6" transform="rotate(0 301 240)" fill="#3e3e3e" stroke="#0e0e0e" stroke-width="0.7" />
<ellipse cx="300.5" cy="240.4" rx="1.5" ry="1.8" transform="rotate(0 300.5 240.4)" fill="#7a7a7a" stroke="none" stroke-width="0" />
<ellipse cx="308" cy="230" rx="3.2" ry="3.6" transform="rotate(0 308 230)" fill="#3e3e3e" stroke="#0e0e0e" stroke-width="0.7" />
<ellipse cx="307.5" cy="230.4" rx="1.5" ry="1.8" transform="rotate(0 307.5 230.4)" fill="#7a7a7a" stroke="none" stroke-width="0" />
<ellipse cx="303.2" cy="250.2" rx="2.4" ry="3.3" transform="rotate(-35 303.2 250.2)" fill="none" stroke="#444" stroke-width="1.0" />
<ellipse cx="314.2" cy="256.3" rx="3.4" ry="4.5" transform="rotate(-35 314.2 256.3)" fill="none" stroke="#303030" stroke-width="2.4" />
<ellipse cx="314.2" cy="256.3" rx="3.4" ry="4.5" transform="rotate(-35 314.2 256.3)" fill="none" stroke="#9b9b9b" stroke-width="0.8" />
<polygon points="321.7,256.4 337.3,265.4 334.3,270.6 318.7,261.6" fill="#8c8c8c" stroke="#3a3a3a" stroke-width="0.7" stroke-linejoin="round" />
<polygon points="321.7,256.4 337.3,265.4 336.2,267.3 320.6,258.3" fill="#c6c6c6" stroke="none" stroke-width="0" stroke-linejoin="round" />
<line x1="332.5" y1="262.7" x2="329.5" y2="267.8" stroke="#444" stroke-width="0.6" />
<line x1="334.3" y1="263.7" x2="331.3" y2="268.8" stroke="#444" stroke-width="0.6" />
<line x1="336" y1="264.7" x2="333" y2="269.8" stroke="#444" stroke-width="0.6" />
<polygon points="327.8,257.4 332.2,259.9 327,268.9 322.6,266.4" fill="#6a6a6a" stroke="#2a2a2a" stroke-width="0.7" stroke-linejoin="round" />
<polygon points="327.8,257.4 332.2,259.9 330.2,263.4 325.8,260.9" fill="#bfbfbf" stroke="#2a2a2a" stroke-width="0.4" stroke-linejoin="round" />
<ellipse cx="320.2" cy="259" rx="1.6" ry="3" transform="rotate(30 320.2 259)" fill="#b0b0b0" stroke="#3a3a3a" stroke-width="0.6" />
<line x1="348.3" y1="275.2" x2="419" y2="317.3" stroke="#7d7d7d" stroke-width="5.4"/>
<line x1="348.3" y1="275.2" x2="419" y2="317.3" stroke="#c9c9c9" stroke-width="4.1"/>
<line x1="348.8" y1="274.4" x2="419.5" y2="316.5" stroke="#dedede" stroke-width="1.4"/>
<polygon points="345,267.5 347.6,266.9 356,271.9 356.6,274.5 351.6,282.9 349,283.5 340.6,278.5 340,275.9" fill="#2e2e2e" stroke="#141414" stroke-width="0.8" stroke-linejoin="round" />
<polygon points="346.6,267.4 356,273 354.8,276 344.5,269.9" fill="#6a6a6a" stroke="none" stroke-width="0" stroke-linejoin="round" />
<line x1="344.3" y1="270" x2="354.8" y2="276.2" stroke="#111" stroke-width="0.6" />
<line x1="341.8" y1="274.2" x2="352.3" y2="280.4" stroke="#111" stroke-width="0.6" />
<polygon points="415.7,309.6 418.3,309 426.7,314 427.3,316.6 422.3,325 419.7,325.6 411.3,320.6 410.7,318" fill="#2e2e2e" stroke="#141414" stroke-width="0.8" stroke-linejoin="round" />
<polygon points="417.3,309.5 426.7,315.1 425.5,318.1 415.2,312" fill="#6a6a6a" stroke="none" stroke-width="0" stroke-linejoin="round" />
<line x1="415" y1="312.1" x2="425.5" y2="318.3" stroke="#111" stroke-width="0.6" />
<line x1="412.5" y1="316.3" x2="423" y2="322.5" stroke="#111" stroke-width="0.6" />
<ellipse cx="424.6" cy="320.6" rx="2.4" ry="5.3" transform="rotate(30.8 424.6 320.6)" fill="#555" stroke="#141414" stroke-width="0.6" />
<ellipse cx="424.6" cy="320.6" rx="1.4" ry="3.1" transform="rotate(30.8 424.6 320.6)" fill="#8d8d8d" stroke="none" stroke-width="0" />
<line x1="986" y1="36" x2="1022" y2="18" stroke="#555" stroke-width="5.2" />
<line x1="986" y1="36" x2="1022" y2="18" stroke="#8d8d8d" stroke-width="3.6" />
<polygon points="975,36.4 975.8,33.8 984.4,29.2 987,30 991.6,38.6 990.8,41.2 982.2,45.8 979.6,45" fill="#1f1f1f" stroke="#141414" stroke-width="0.8" stroke-linejoin="round" />
<polygon points="975.8,34.9 985.4,29.8 987.4,32.4 976.8,38" fill="#3b3b3b" stroke="none" stroke-width="0" stroke-linejoin="round" />
<line x1="976.7" y1="38.2" x2="987.6" y2="32.5" stroke="#111" stroke-width="0.6" />
<line x1="979" y1="42.5" x2="989.9" y2="36.8" stroke="#111" stroke-width="0.6" />
<ellipse cx="967" cy="47.3" rx="6" ry="7" transform="rotate(-28 967 47.3)" fill="#8f8f8f" stroke="#2e2e2e" stroke-width="1.1" />
<ellipse cx="967.8" cy="47.6" rx="3.5" ry="4.3" transform="rotate(-28 967.8 47.6)" fill="#d9d9d9" stroke="#333" stroke-width="0.9" />
<ellipse cx="968.6" cy="48.1" rx="2.2" ry="2.9" transform="rotate(-28 968.6 48.1)" fill="#f0f0f0" stroke="none" stroke-width="0" />
<ellipse cx="953.2" cy="55.5" rx="4.8" ry="7.2" transform="rotate(-28 953.2 55.5)" fill="none" stroke="#333" stroke-width="2.6" />
<ellipse cx="953.2" cy="55.5" rx="4.8" ry="7.2" transform="rotate(-28 953.2 55.5)" fill="none" stroke="#a9a9a9" stroke-width="1.0" />
<polygon points="926.2,60.4 937,54.1 939.5,55.5 941.7,59.3 941.4,61.8 930.6,68" fill="#a2a2a2" stroke="#4a4a4a" stroke-width="0.7" stroke-linejoin="round" />
<polygon points="926.4,60.7 937.2,54.5 938.7,56.1 927.5,62.6" fill="#c9c9c9" stroke="none" stroke-width="0" stroke-linejoin="round" />
<polygon points="913.2,69 923.2,63.3 926.6,69.1 916.6,74.9" fill="#8a8a8a" stroke="#3c3c3c" stroke-width="0.7" stroke-linejoin="round" />
<line x1="914.5" y1="68.3" x2="918.6" y2="73.7" stroke="#444" stroke-width="0.6" />
<line x1="916.3" y1="67.3" x2="920.4" y2="72.7" stroke="#444" stroke-width="0.6" />
<line x1="918" y1="66.3" x2="922.1" y2="71.7" stroke="#444" stroke-width="0.6" />
<line x1="919.7" y1="65.3" x2="923.8" y2="70.7" stroke="#444" stroke-width="0.6" />
<ellipse cx="914.9" cy="72" rx="1.4" ry="3.4" transform="rotate(-30 914.9 72)" fill="#b5b5b5" stroke="#3c3c3c" stroke-width="0.6" />
<polygon points="920.4,61.4 924.8,58.4 928.6,61.8 932.3,68.2 928.7,71.8 924.6,69.3" fill="#6f6f6f" stroke="#2a2a2a" stroke-width="0.8" stroke-linejoin="round" />
<polygon points="920.4,61.4 924.8,58.4 928.6,61.8 923.7,65.2" fill="#bdbdbd" stroke="#2a2a2a" stroke-width="0.5" stroke-linejoin="round" />
<ellipse cx="902.3" cy="80.6" rx="4.6" ry="6.4" transform="rotate(-32 902.3 80.6)" fill="none" stroke="#303030" stroke-width="2.5" />
<ellipse cx="902.3" cy="80.6" rx="4.6" ry="6.4" transform="rotate(-32 902.3 80.6)" fill="none" stroke="#9b9b9b" stroke-width="0.9000000000000001" />
<ellipse cx="889.3" cy="88.7" rx="2.8" ry="4.4" transform="rotate(-28 889.3 88.7)" fill="none" stroke="#2a2a2a" stroke-width="1.2" />
<polygon points="798,125.9 863.4,88.9 875.5,94.5 811.8,133.5" fill="#bcbcbc" stroke="#555" stroke-width="0.7" stroke-linejoin="round" />
<polygon points="811.8,133.5 875.5,94.5 875.5,107.1 811.8,147.3" fill="#6f6f6f" stroke="#444" stroke-width="0.7" stroke-linejoin="round" />
<polygon points="798,125.9 811.8,133.5 811.8,147.3 798,139.7" fill="#a3a3a3" stroke="#444" stroke-width="0.7" stroke-linejoin="round" />
<ellipse cx="801.8" cy="138.5" rx="5.2" ry="6.2" transform="rotate(0 801.8 138.5)" fill="#a8a8a8" stroke="#3a3a3a" stroke-width="0.9" />
<ellipse cx="800.8" cy="138.3" rx="3.6" ry="4.6" transform="rotate(0 800.8 138.3)" fill="#bdbdbd" stroke="#666" stroke-width="0.5" />
<ellipse cx="844.6" cy="123.4" rx="4.2" ry="5" transform="rotate(0 844.6 123.4)" fill="#dcdcdc" stroke="#3a3a3a" stroke-width="0.9" />
<ellipse cx="862.2" cy="110.8" rx="4.2" ry="5" transform="rotate(0 862.2 110.8)" fill="#dcdcdc" stroke="#3a3a3a" stroke-width="0.9" />
<ellipse cx="845.4" cy="123.8" rx="2.6" ry="3.3" transform="rotate(0 845.4 123.8)" fill="#a5a5a5" stroke="none" stroke-width="0" />
<ellipse cx="863" cy="111.2" rx="2.6" ry="3.3" transform="rotate(0 863 111.2)" fill="#a5a5a5" stroke="none" stroke-width="0" />
<ellipse cx="827" cy="134.8" rx="5" ry="5.8" transform="rotate(0 827 134.8)" fill="#3b3b3b" stroke="#1a1a1a" stroke-width="0.7" />
<ellipse cx="831" cy="137" rx="4.6" ry="5.2" transform="rotate(0 831 137)" fill="#2f2f2f" stroke="#1a1a1a" stroke-width="0.7" />
<ellipse cx="834.1" cy="138.8" rx="3.4" ry="4" transform="rotate(0 834.1 138.8)" fill="#4a4a4a" stroke="#1a1a1a" stroke-width="0.7" />
<ellipse cx="834.9" cy="139.2" rx="1.8" ry="2.2" transform="rotate(0 834.9 139.2)" fill="#8c8c8c" stroke="none" stroke-width="0" />
<polygon points="874.6,103.5 876.6,102.3 876.6,110.5 874.6,111.5" fill="#333" stroke="none" stroke-width="0" stroke-linejoin="round" />
<ellipse cx="884.3" cy="123.3" rx="2.8" ry="4.4" transform="rotate(-28 884.3 123.3)" fill="none" stroke="#2a2a2a" stroke-width="1.2" />
<ellipse cx="865.2" cy="133.4" rx="2.8" ry="4.4" transform="rotate(-28 865.2 133.4)" fill="none" stroke="#2a2a2a" stroke-width="1.2" />
<ellipse cx="877.3" cy="141" rx="4.6" ry="6.2" transform="rotate(-35 877.3 141)" fill="none" stroke="#303030" stroke-width="2.6" />
<ellipse cx="877.3" cy="141" rx="4.6" ry="6.2" transform="rotate(-35 877.3 141)" fill="none" stroke="#9b9b9b" stroke-width="1.0" />
<ellipse cx="897.3" cy="130.2" rx="4.6" ry="6.2" transform="rotate(-35 897.3 130.2)" fill="none" stroke="#303030" stroke-width="2.6" />
<ellipse cx="897.3" cy="130.2" rx="4.6" ry="6.2" transform="rotate(-35 897.3 130.2)" fill="none" stroke="#9b9b9b" stroke-width="1.0" />
<ellipse cx="892.5" cy="149.3" rx="3.4" ry="3.6" transform="rotate(0 892.5 149.3)" fill="#c9c9c9" stroke="#555" stroke-width="0.7" />
<ellipse cx="895.6" cy="151.3" rx="4.6" ry="5" transform="rotate(0 895.6 151.3)" fill="#8b8b8b" stroke="#333" stroke-width="0.8" />
<ellipse cx="896.8" cy="152" rx="2.8" ry="3.2" transform="rotate(0 896.8 152)" fill="#666" stroke="#333" stroke-width="0.5" />
<polygon points="913.4,134.7 927.7,142.9 924.1,149.2 909.8,140.9" fill="#3a3a3a" stroke="#161616" stroke-width="0.7" stroke-linejoin="round" />
<ellipse cx="911.6" cy="137.8" rx="2" ry="3.8" transform="rotate(30 911.6 137.8)" fill="#5a5a5a" stroke="#161616" stroke-width="0.6" />
<polygon points="918.7,134.7 923.5,137.5 917.3,148.3 912.5,145.5" fill="#2a2a2a" stroke="#111" stroke-width="0.7" stroke-linejoin="round" />
<polygon points="918.7,134.7 923.5,137.5 921.5,141 916.7,138.2" fill="#777" stroke="none" stroke-width="0" stroke-linejoin="round" />
<ellipse cx="925.9" cy="146.1" rx="2.2" ry="4" transform="rotate(30 925.9 146.1)" fill="#666" stroke="#161616" stroke-width="0.6" />
<ellipse cx="926.3" cy="146.3" rx="1" ry="2.2" transform="rotate(30 926.3 146.3)" fill="#b5b5b5" stroke="none" stroke-width="0" />
<line x1="943.6" y1="156.5" x2="1008" y2="194.2" stroke="#7d7d7d" stroke-width="5.4"/>
<line x1="943.6" y1="156.5" x2="1008" y2="194.2" stroke="#c9c9c9" stroke-width="4.1"/>
<line x1="944.1" y1="155.7" x2="1008.5" y2="193.4" stroke="#dedede" stroke-width="1.4"/>
<polygon points="940.2,148.8 942.8,148.2 951.3,153.1 951.9,155.7 947,164.2 944.4,164.8 935.9,159.9 935.3,157.3" fill="#2e2e2e" stroke="#141414" stroke-width="0.8" stroke-linejoin="round" />
<polygon points="941.9,148.7 951.2,154.2 950.1,157.3 939.7,151.2" fill="#6a6a6a" stroke="none" stroke-width="0" stroke-linejoin="round" />
<line x1="939.6" y1="151.3" x2="950.1" y2="157.5" stroke="#111" stroke-width="0.6" />
<line x1="937.1" y1="155.5" x2="947.6" y2="161.7" stroke="#111" stroke-width="0.6" />
<polygon points="1004.6,186.5 1007.2,185.9 1015.7,190.8 1016.3,193.4 1011.4,201.9 1008.8,202.5 1000.3,197.6 999.7,195" fill="#2e2e2e" stroke="#141414" stroke-width="0.8" stroke-linejoin="round" />
<polygon points="1006.3,186.4 1015.6,191.9 1014.5,195 1004.1,188.9" fill="#6a6a6a" stroke="none" stroke-width="0" stroke-linejoin="round" />
<line x1="1004" y1="189" x2="1014.5" y2="195.2" stroke="#111" stroke-width="0.6" />
<line x1="1001.5" y1="193.2" x2="1012" y2="199.4" stroke="#111" stroke-width="0.6" />
<ellipse cx="1013.6" cy="197.5" rx="2.4" ry="5.3" transform="rotate(30.3 1013.6 197.5)" fill="#555" stroke="#141414" stroke-width="0.6" />
<ellipse cx="1013.6" cy="197.5" rx="1.4" ry="3.1" transform="rotate(30.3 1013.6 197.5)" fill="#8d8d8d" stroke="none" stroke-width="0" />
<polygon points="1027,201.2 1042.6,210.2 1039.6,215.4 1024,206.4" fill="#8c8c8c" stroke="#3a3a3a" stroke-width="0.7" stroke-linejoin="round" />
<polygon points="1027,201.2 1042.6,210.2 1041.5,212.1 1025.9,203.1" fill="#c6c6c6" stroke="none" stroke-width="0" stroke-linejoin="round" />
<line x1="1037.8" y1="207.5" x2="1034.8" y2="212.6" stroke="#444" stroke-width="0.6" />
<line x1="1039.6" y1="208.5" x2="1036.6" y2="213.6" stroke="#444" stroke-width="0.6" />
<line x1="1041.3" y1="209.5" x2="1038.3" y2="214.6" stroke="#444" stroke-width="0.6" />
<polygon points="1033.1,202.2 1037.5,204.7 1032.3,213.7 1027.9,211.2" fill="#6a6a6a" stroke="#2a2a2a" stroke-width="0.7" stroke-linejoin="round" />
<polygon points="1033.1,202.2 1037.5,204.7 1035.5,208.2 1031.1,205.7" fill="#bfbfbf" stroke="#2a2a2a" stroke-width="0.4" stroke-linejoin="round" />
<ellipse cx="1025.5" cy="203.8" rx="1.6" ry="3" transform="rotate(30 1025.5 203.8)" fill="#b0b0b0" stroke="#3a3a3a" stroke-width="0.6" />
<ellipse cx="1049.8" cy="218" rx="3.6" ry="4.6" transform="rotate(-35 1049.8 218)" fill="none" stroke="#303030" stroke-width="2.7" />
<ellipse cx="1049.8" cy="218" rx="3.6" ry="4.6" transform="rotate(-35 1049.8 218)" fill="none" stroke="#9b9b9b" stroke-width="1.1" />
<ellipse cx="1060.4" cy="223.6" rx="2.6" ry="3.5" transform="rotate(-35 1060.4 223.6)" fill="none" stroke="#444" stroke-width="1.0" />
<polygon points="1075.6,238.3 1082,234.3 1108.3,237.3 1112.8,241.3 1112.3,245.3 1104.3,254.6 1086.2,252.6 1076.6,242.3" fill="#2d2d2d" stroke="#111" stroke-width="0.8" stroke-linejoin="round" />
<polygon points="1085,207 1106,207 1106,241 1085,241" fill="#2e2e2e" stroke="#111" stroke-width="0.8" stroke-linejoin="round" />
<ellipse cx="1095.5" cy="241" rx="10.5" ry="5" transform="rotate(0 1095.5 241)" fill="#2e2e2e" stroke="#111" stroke-width="0.5" />
<ellipse cx="1095.5" cy="207" rx="10.5" ry="5" transform="rotate(0 1095.5 207)" fill="#404040" stroke="#111" stroke-width="0.8" />
<ellipse cx="1095.5" cy="206.7" rx="5.8" ry="2.6" transform="rotate(0 1095.5 206.7)" fill="#8a8a8a" stroke="#222" stroke-width="0.5" />
<line x1="1089" y1="212" x2="1089" y2="239" stroke="#484848" stroke-width="2.0" />
<polygon points="1104,215 1111,210 1116,215 1116,227 1109,232 1104,228" fill="#222" stroke="#111" stroke-width="0.7" stroke-linejoin="round" />
<ellipse cx="1108" cy="221" rx="3.6" ry="6" transform="rotate(0 1108 221)" fill="#666" stroke="#111" stroke-width="0.5" />
<line x1="1110" y1="222" x2="1118" y2="223.5" stroke="#111" stroke-width="1.2" />
<ellipse cx="1095" cy="251.5" rx="2.8" ry="3.2" transform="rotate(0 1095 251.5)" fill="#454545" stroke="#0e0e0e" stroke-width="0.7" />
<ellipse cx="1095" cy="251.5" rx="1.2" ry="1.5" transform="rotate(0 1095 251.5)" fill="#858585" stroke="none" stroke-width="0" />
<ellipse cx="1105.3" cy="250.5" rx="2.8" ry="3.2" transform="rotate(0 1105.3 250.5)" fill="#454545" stroke="#0e0e0e" stroke-width="0.7" />
<ellipse cx="1105.3" cy="250.5" rx="1.2" ry="1.5" transform="rotate(0 1105.3 250.5)" fill="#858585" stroke="none" stroke-width="0" />
<ellipse cx="1120.6" cy="258.8" rx="2.3" ry="3.6" transform="rotate(-30 1120.6 258.8)" fill="none" stroke="#444" stroke-width="1.0" />
<ellipse cx="1131.9" cy="264.8" rx="3.6" ry="4.7" transform="rotate(-35 1131.9 264.8)" fill="none" stroke="#303030" stroke-width="2.5" />
<ellipse cx="1131.9" cy="264.8" rx="3.6" ry="4.7" transform="rotate(-35 1131.9 264.8)" fill="none" stroke="#9b9b9b" stroke-width="0.9000000000000001" />
<polygon points="1141.9,267.5 1157.5,276.5 1154.5,281.7 1138.9,272.7" fill="#8c8c8c" stroke="#3a3a3a" stroke-width="0.7" stroke-linejoin="round" />
<polygon points="1141.9,267.5 1157.5,276.5 1156.4,278.4 1140.8,269.4" fill="#c6c6c6" stroke="none" stroke-width="0" stroke-linejoin="round" />
<line x1="1152.7" y1="273.8" x2="1149.7" y2="278.9" stroke="#444" stroke-width="0.6" />
<line x1="1154.5" y1="274.8" x2="1151.5" y2="279.9" stroke="#444" stroke-width="0.6" />
<line x1="1156.2" y1="275.8" x2="1153.2" y2="280.9" stroke="#444" stroke-width="0.6" />
<polygon points="1148,268.5 1152.4,271 1147.2,280 1142.8,277.5" fill="#6a6a6a" stroke="#2a2a2a" stroke-width="0.7" stroke-linejoin="round" />
<polygon points="1148,268.5 1152.4,271 1150.4,274.5 1146,272" fill="#bfbfbf" stroke="#2a2a2a" stroke-width="0.4" stroke-linejoin="round" />
<ellipse cx="1140.4" cy="270.1" rx="1.6" ry="3" transform="rotate(30 1140.4 270.1)" fill="#b0b0b0" stroke="#3a3a3a" stroke-width="0.6" />
<polygon points="1166,285 1172,283 1177,286.5 1177,293 1171,295.5 1166,292" fill="#1f1f1f" stroke="#111" stroke-width="0.7" stroke-linejoin="round" />
<polygon points="1178.3,281 1186.3,281 1185.6,296 1184.6,309.6 1179.4,309.6 1178.6,296" fill="#b2b2b2" stroke="#444" stroke-width="0.7" stroke-linejoin="round" />
<ellipse cx="1182.3" cy="281" rx="4" ry="1.8" transform="rotate(0 1182.3 281)" fill="#d5d5d5" stroke="#444" stroke-width="0.7" />
<line x1="1180.2" y1="283" x2="1180.6" y2="308" stroke="#e6e6e6" stroke-width="1.2" />
<line x1="1178.6" y1="296" x2="1185.6" y2="296" stroke="#444" stroke-width="0.7" />
<polygon points="276.5,676.3 283.1,668.1 294.5,668.9 301.1,676.3 300.2,684.4 292.9,691.8 283.9,690.1 276.5,685.2" fill="#1f1f1f" stroke="#111" stroke-width="0.9" stroke-linejoin="round" />
<polygon points="278.6,675.6 283.9,669 294.3,669.6 299.6,676.3 294.6,682.6 285.2,682" fill="#8a8a8a" stroke="#222" stroke-width="0.7" stroke-linejoin="round" />
<ellipse cx="289.2" cy="675.8" rx="5.6" ry="3.6" transform="rotate(8 289.2 675.8)" fill="#7a7a7a" stroke="#555" stroke-width="0.5" />
<polygon points="294.6,682.6 299.6,676.3 300.2,684.4 293.6,691" fill="#6e6e6e" stroke="#222" stroke-width="0.6" stroke-linejoin="round" />
<polygon points="285.2,682 294.6,682.6 293.6,691 284.2,689.6" fill="#2b2b2b" stroke="#111" stroke-width="0.5" stroke-linejoin="round" />
<polygon points="299.2,689 307.6,684.2 317.4,690.1 314.3,700.2 305.1,701.8 298.9,696" fill="#8f8f8f" stroke="#3a3a3a" stroke-width="0.8" stroke-linejoin="round" />
<polygon points="299.6,689.4 307.6,684.8 312.5,687.8 304,692.5" fill="#b4b4b4" stroke="none" stroke-width="0" stroke-linejoin="round" />
<ellipse cx="311.6" cy="695.2" rx="4.2" ry="6" transform="rotate(28 311.6 695.2)" fill="#c9c9c9" stroke="#3a3a3a" stroke-width="0.8" />
<ellipse cx="312" cy="695.5" rx="2.5" ry="4" transform="rotate(28 312 695.5)" fill="#8a8a8a" stroke="#555" stroke-width="0.5" />
<ellipse cx="321" cy="702.1" rx="4.6" ry="7.4" transform="rotate(35 321 702.1)" fill="none" stroke="#2e2e2e" stroke-width="3.0" />
<ellipse cx="321" cy="702.1" rx="4.6" ry="7.4" transform="rotate(35 321 702.1)" fill="none" stroke="#8c8c8c" stroke-width="1.2" />
<polygon points="361.5,716 367.5,709.2 377,708.2 381.3,714 380.4,721.5 372,727.5" fill="#9a9a9a" stroke="#3a3a3a" stroke-width="0.8" stroke-linejoin="round" />
<ellipse cx="374.2" cy="715.3" rx="6.6" ry="7.2" transform="rotate(0 374.2 715.3)" fill="#a4a4a4" stroke="#3a3a3a" stroke-width="0.8" />
<ellipse cx="373.2" cy="716" rx="4" ry="5" transform="rotate(0 373.2 716)" fill="#8e8e8e" stroke="#666" stroke-width="0.4" />
<path d="M376.5 709.5 Q380.5 714.5 378.5 722" fill="none" stroke="#e0e0e0" stroke-width="1.0" />
<polygon points="331.3,702.4 350.1,712.2 344.6,722.6 326.4,711.8" fill="url(#g7)" stroke="#3a3a3a" stroke-width="0.8" stroke-linejoin="round" />
<ellipse cx="328.8" cy="707" rx="2.6" ry="5.2" transform="rotate(28 328.8 707)" fill="#d4d4d4" stroke="#3a3a3a" stroke-width="0.8" />
<polygon points="350.1,710.8 372.6,724.6 364.2,742 341.9,724.6" fill="url(#g8)" stroke="#3a3a3a" stroke-width="0.8" stroke-linejoin="round" />
<ellipse cx="368.7" cy="734" rx="5.4" ry="8.4" transform="rotate(30 368.7 734)" fill="#bdbdbd" stroke="#2e2e2e" stroke-width="1.0" />
<ellipse cx="368.4" cy="734.6" rx="3.4" ry="5.6" transform="rotate(30 368.4 734.6)" fill="#f3f3f3" stroke="#555" stroke-width="0.6" />
<ellipse cx="379.2" cy="740.8" rx="3.3" ry="5" transform="rotate(38 379.2 740.8)" fill="none" stroke="#2e2e2e" stroke-width="2.4" />
<ellipse cx="379.2" cy="740.8" rx="3.3" ry="5" transform="rotate(38 379.2 740.8)" fill="none" stroke="#9a9a9a" stroke-width="0.9" />
<ellipse cx="388.5" cy="747.4" rx="4.2" ry="6.6" transform="rotate(38 388.5 747.4)" fill="none" stroke="#2e2e2e" stroke-width="2.8" />
<ellipse cx="388.5" cy="747.4" rx="4.2" ry="6.6" transform="rotate(38 388.5 747.4)" fill="none" stroke="#9a9a9a" stroke-width="1.1" />
<polygon points="417.1,685.2 438.4,671.3 438.4,684.6 422.9,693.8" fill="#1a1a1a" stroke="#111" stroke-width="0.6" stroke-linejoin="round" />
<polygon points="398.3,690.1 405.7,682.8 417.9,683.6 422.9,693.4 415.5,704 404,702.4" fill="#222" stroke="#0e0e0e" stroke-width="0.9" stroke-linejoin="round" />
<polygon points="405.7,682.8 417.9,683.6 420.2,688.5 413,694.2 403,692.6 400.4,688.4" fill="#3c3c3c" stroke="#151515" stroke-width="0.5" stroke-linejoin="round" />
<polygon points="413,694.2 420.2,688.5 422.9,693.4 415.5,704" fill="#4a4a4a" stroke="#151515" stroke-width="0.5" stroke-linejoin="round" />
<polygon points="400.7,751.5 421.5,763.5 416.9,771.5 396.1,759.5" fill="#8d8d8d" stroke="#3a3a3a" stroke-width="0.7" stroke-linejoin="round" />
<polygon points="400.7,751.5 421.5,763.5 419.7,766.6 398.9,754.6" fill="#c2c2c2" stroke="none" stroke-width="0" stroke-linejoin="round" />
<line x1="402.4" y1="752.5" x2="397.8" y2="760.5" stroke="#4a4a4a" stroke-width="0.6" />
<line x1="404.1" y1="753.5" x2="399.5" y2="761.5" stroke="#4a4a4a" stroke-width="0.6" />
<line x1="405.9" y1="754.5" x2="401.3" y2="762.5" stroke="#4a4a4a" stroke-width="0.6" />
<line x1="407.6" y1="755.5" x2="403" y2="763.5" stroke="#4a4a4a" stroke-width="0.6" />
<line x1="417.1" y1="761" x2="412.5" y2="769" stroke="#4a4a4a" stroke-width="0.6" />
<line x1="418.9" y1="762" x2="414.3" y2="770" stroke="#4a4a4a" stroke-width="0.6" />
<line x1="420.6" y1="763" x2="416" y2="771" stroke="#4a4a4a" stroke-width="0.6" />
<polygon points="411.3,754.2 417.3,757.7 409.7,770.8 403.7,767.3" fill="#707070" stroke="#2a2a2a" stroke-width="0.8" stroke-linejoin="round" />
<polygon points="411.3,754.2 417.3,757.7 414.5,762.5 408.5,759" fill="#c0c0c0" stroke="#2a2a2a" stroke-width="0.4" stroke-linejoin="round" />
<polygon points="420.5,765.2 427.4,769.2 424.8,773.8 417.9,769.8" fill="#cfcfcf" stroke="#777" stroke-width="0.6" stroke-linejoin="round" />
<ellipse cx="398.4" cy="755.5" rx="2.2" ry="4.6" transform="rotate(30 398.4 755.5)" fill="#a8a8a8" stroke="#3a3a3a" stroke-width="0.6" />
<line x1="44.6" y1="61.7" x2="40.3" y2="120.8" stroke="#1a1a1a" stroke-width="1.0" stroke-linecap="round"/>
<line x1="109.5" y1="60.4" x2="124.6" y2="84.3" stroke="#1a1a1a" stroke-width="1.0" stroke-linecap="round"/>
<line x1="198.8" y1="66" x2="163.6" y2="64.2" stroke="#1a1a1a" stroke-width="1.0" stroke-linecap="round"/>
<line x1="197.6" y1="95.1" x2="152.3" y2="73" stroke="#1a1a1a" stroke-width="1.0" stroke-linecap="round"/>
<line x1="137.2" y1="107.7" x2="110.7" y2="96.9" stroke="#1a1a1a" stroke-width="1.0" stroke-linecap="round"/>
<line x1="137.2" y1="107.7" x2="96.9" y2="123.3" stroke="#1a1a1a" stroke-width="1.0" stroke-linecap="round"/>
<line x1="57.4" y1="181.2" x2="96.9" y2="100.7" stroke="#1a1a1a" stroke-width="1.0" stroke-linecap="round"/>
<line x1="57.4" y1="181.2" x2="90.6" y2="123.3" stroke="#1a1a1a" stroke-width="1.0" stroke-linecap="round"/>
<line x1="96.9" y1="183.7" x2="108.2" y2="135.9" stroke="#1a1a1a" stroke-width="1.0" stroke-linecap="round"/>
<line x1="141.5" y1="183.7" x2="146" y2="156" stroke="#1a1a1a" stroke-width="1.0" stroke-linecap="round"/>
<line x1="204.7" y1="152.4" x2="219.2" y2="199.2" stroke="#1a1a1a" stroke-width="1.0" stroke-linecap="round"/>
<line x1="242.4" y1="152.4" x2="237.7" y2="206.6" stroke="#1a1a1a" stroke-width="1.0" stroke-linecap="round"/>
<line x1="281.2" y1="152.4" x2="247.2" y2="213.2" stroke="#1a1a1a" stroke-width="1.0" stroke-linecap="round"/>
<line x1="319" y1="152.4" x2="292.6" y2="210.5" stroke="#1a1a1a" stroke-width="1.0" stroke-linecap="round"/>
<line x1="382.4" y1="246.2" x2="378.4" y2="292.4" stroke="#1a1a1a" stroke-width="1.0" stroke-linecap="round"/>
<line x1="259.6" y1="297.7" x2="302.6" y2="251.5" stroke="#1a1a1a" stroke-width="1.0" stroke-linecap="round"/>
<line x1="300" y1="297.7" x2="312.4" y2="259.4" stroke="#1a1a1a" stroke-width="1.0" stroke-linecap="round"/>
<line x1="338.8" y1="297.7" x2="327.4" y2="262" stroke="#1a1a1a" stroke-width="1.0" stroke-linecap="round"/>
<text x="44.6" y="59.1" class="n" font-size="21">1</text>
<text x="107" y="59.1" class="n" font-size="21">4</text>
<text x="205.1" y="72.4" class="n" font-size="21">6</text>
<text x="205.1" y="100.9" class="n" font-size="21">5</text>
<text x="148" y="110.9" class="n" font-size="21">3</text>
<text x="57.4" y="198.8" class="n" font-size="21">2</text>
<text x="95.6" y="198.8" class="n" font-size="21">7</text>
<text x="141" y="198.8" class="n" font-size="21">8</text>
<text x="204.9" y="149.8" class="n" font-size="21">9</text>
<text x="243" y="149.8" class="n" font-size="21">10</text>
<text x="283.3" y="149.8" class="n" font-size="21">11</text>
<text x="322.2" y="149.8" class="n" font-size="21">12</text>
<text x="381.6" y="243.5" class="n" font-size="21">14</text>
<text x="257.7" y="313" class="n" font-size="21">11</text>
<text x="298.4" y="313" class="n" font-size="21">10</text>
<text x="339.6" y="313" class="n" font-size="21">13</text>
<line x1="756.4" y1="108.7" x2="823" y2="118.3" stroke="#1a1a1a" stroke-width="1.0" stroke-linecap="round"/>
<line x1="881" y1="61.7" x2="888.5" y2="85.6" stroke="#1a1a1a" stroke-width="1.0" stroke-linecap="round"/>
<line x1="881" y1="61.7" x2="884.2" y2="118.3" stroke="#1a1a1a" stroke-width="1.0" stroke-linecap="round"/>
<line x1="881" y1="61.7" x2="867.1" y2="129.6" stroke="#1a1a1a" stroke-width="1.0" stroke-linecap="round"/>
<line x1="912.4" y1="42.8" x2="926.3" y2="62.9" stroke="#1a1a1a" stroke-width="1.0" stroke-linecap="round"/>
<line x1="972.8" y1="84.3" x2="956.5" y2="54.1" stroke="#1a1a1a" stroke-width="1.0" stroke-linecap="round"/>
<line x1="1006.8" y1="83" x2="970.3" y2="45.3" stroke="#1a1a1a" stroke-width="1.0" stroke-linecap="round"/>
<line x1="917.4" y1="104.5" x2="903.6" y2="83" stroke="#1a1a1a" stroke-width="1.0" stroke-linecap="round"/>
<line x1="917.4" y1="104.5" x2="878.4" y2="135.9" stroke="#1a1a1a" stroke-width="1.0" stroke-linecap="round"/>
<line x1="917.4" y1="104.5" x2="901.1" y2="125.8" stroke="#1a1a1a" stroke-width="1.0" stroke-linecap="round"/>
<line x1="870.9" y1="182.5" x2="893.5" y2="151" stroke="#1a1a1a" stroke-width="1.0" stroke-linecap="round"/>
<line x1="911.9" y1="182.5" x2="917.4" y2="144.7" stroke="#1a1a1a" stroke-width="1.0" stroke-linecap="round"/>
<line x1="990.4" y1="152.3" x2="979.1" y2="173.7" stroke="#1a1a1a" stroke-width="1.0" stroke-linecap="round"/>
<line x1="1041" y1="182" x2="1037.2" y2="205.9" stroke="#1a1a1a" stroke-width="1.0" stroke-linecap="round"/>
<line x1="1077.4" y1="182.7" x2="1052.3" y2="215.9" stroke="#1a1a1a" stroke-width="1.0" stroke-linecap="round"/>
<line x1="1119" y1="182.7" x2="1105.1" y2="212.1" stroke="#1a1a1a" stroke-width="1.0" stroke-linecap="round"/>
<line x1="1035.2" y1="253.2" x2="1061" y2="226" stroke="#1a1a1a" stroke-width="1.0" stroke-linecap="round"/>
<line x1="1035.2" y1="253.2" x2="1117.7" y2="260.7" stroke="#1a1a1a" stroke-width="1.0" stroke-linecap="round"/>
<line x1="1078.8" y1="338.9" x2="1131.1" y2="267.4" stroke="#1a1a1a" stroke-width="1.0" stroke-linecap="round"/>
<line x1="1124.1" y1="338.9" x2="1148.2" y2="277.5" stroke="#1a1a1a" stroke-width="1.0" stroke-linecap="round"/>
<line x1="1169.4" y1="338.9" x2="1180.5" y2="294.6" stroke="#1a1a1a" stroke-width="1.0" stroke-linecap="round"/>
<text x="747.5" y="114.5" class="n" font-size="21">1</text>
<text x="881" y="59" class="n" font-size="21">2</text>
<text x="909" y="40" class="n" font-size="21">4</text>
<text x="975.3" y="99.4" class="n" font-size="21">5</text>
<text x="1011.3" y="99.4" class="n" font-size="21">6</text>
<text x="925" y="110" class="n" font-size="21">3</text>
<text x="993" y="149.5" class="n" font-size="21">18</text>
<text x="869.6" y="198.8" class="n" font-size="21">16</text>
<text x="911" y="198.8" class="n" font-size="21">7</text>
<text x="1042.7" y="180" class="n" font-size="21">9</text>
<text x="1080.7" y="180" class="n" font-size="21">10</text>
<text x="1122.7" y="180" class="n" font-size="21">12</text>
<text x="1021.3" y="263.2" class="n" font-size="21">11</text>
<text x="1077.8" y="355" class="n" font-size="21">10</text>
<text x="1124" y="355" class="n" font-size="21">13</text>
<text x="1168.8" y="355" class="n" font-size="21">17</text>
<line x1="199.2" y1="425.3" x2="271.9" y2="425.3" stroke="#1a1a1a" stroke-width="1.0" stroke-linecap="round"/>
<line x1="378.8" y1="400.5" x2="388.2" y2="428.3" stroke="#1a1a1a" stroke-width="1.0" stroke-linecap="round"/>
<line x1="415.2" y1="510.4" x2="406.6" y2="533.1" stroke="#1a1a1a" stroke-width="1.0" stroke-linecap="round"/>
<line x1="580.9" y1="481.3" x2="546.7" y2="494" stroke="#1a1a1a" stroke-width="1.0" stroke-linecap="round"/>
<line x1="576.2" y1="598.6" x2="597.6" y2="585.8" stroke="#1a1a1a" stroke-width="1.0" stroke-linecap="round"/>
<line x1="691.7" y1="429.7" x2="700.2" y2="457.5" stroke="#1a1a1a" stroke-width="1.0" stroke-linecap="round"/>
<line x1="733.5" y1="274.6" x2="742.2" y2="320.9" stroke="#1a1a1a" stroke-width="1.0" stroke-linecap="round"/>
<line x1="787.4" y1="591.7" x2="749.7" y2="606.8" stroke="#1a1a1a" stroke-width="1.0" stroke-linecap="round"/>
<line x1="974.6" y1="436.9" x2="957.4" y2="469" stroke="#1a1a1a" stroke-width="1.0" stroke-linecap="round"/>
<line x1="956.9" y1="659.6" x2="861.1" y2="702.6" stroke="#1a1a1a" stroke-width="1.0" stroke-linecap="round"/>
<line x1="956.9" y1="702.6" x2="897.4" y2="715.8" stroke="#1a1a1a" stroke-width="1.0" stroke-linecap="round"/>
<text x="184.2" y="432.6" class="n" font-size="21">15</text>
<text x="377.5" y="397.5" class="n" font-size="21">19</text>
<text x="418.2" y="507.4" class="n" font-size="21">21</text>
<text x="594.4" y="484.3" class="n" font-size="21">24</text>
<text x="564.6" y="609.3" class="n" font-size="21">23</text>
<text x="689.5" y="426.7" class="n" font-size="21">20</text>
<text x="736.4" y="270" class="n" font-size="21">24</text>
<text x="797.5" y="595" class="n" font-size="21">22</text>
<text x="975.4" y="432.6" class="n" font-size="21">27</text>
<text x="970" y="664" class="n" font-size="21">25</text>
<text x="970" y="707" class="n" font-size="21">26</text>
<line x1="293.1" y1="638" x2="305.4" y2="684.7" stroke="#1a1a1a" stroke-width="1.0" stroke-linecap="round"/>
<line x1="341" y1="639.3" x2="324.3" y2="694.5" stroke="#1a1a1a" stroke-width="1.0" stroke-linecap="round"/>
<line x1="391.3" y1="636.8" x2="360.6" y2="721.5" stroke="#1a1a1a" stroke-width="1.0" stroke-linecap="round"/>
<line x1="341" y1="756.3" x2="382.7" y2="752.1" stroke="#1a1a1a" stroke-width="1.0" stroke-linecap="round"/>
<line x1="465.6" y1="713.7" x2="383.1" y2="736.2" stroke="#1a1a1a" stroke-width="1.0" stroke-linecap="round"/>
<line x1="469.3" y1="746.4" x2="416.8" y2="758" stroke="#1a1a1a" stroke-width="1.0" stroke-linecap="round"/>
<text x="290.7" y="634.4" class="n" font-size="21">30</text>
<text x="342.2" y="634.4" class="n" font-size="21">31</text>
<text x="391.3" y="634.4" class="n" font-size="21">28</text>
<text x="325.8" y="764" class="n" font-size="21">10</text>
<text x="479.5" y="717.5" class="n" font-size="21">11</text>
<text x="480.6" y="752" class="n" font-size="21">29</text>
<ellipse cx="1181.8" cy="9.6" rx="1.2" ry="1.2" transform="rotate(0 1181.8 9.6)" fill="#222" stroke="none" stroke-width="0" />
<rect x="1184.2" y="6.2" width="2.6" height="2.6" fill="none" stroke="#222" stroke-width="0.9"/>
<polygon points="1190.1,9.6 1191.6,8.1 1193.1,9.6 1191.6,11.1" fill="#222" stroke="none" stroke-width="0" stroke-linejoin="round" />
<polygon points="1193.3,9.6 1194.8,8.1 1196.3,9.6 1194.8,11.1" fill="#222" stroke="none" stroke-width="0" stroke-linejoin="round" />
<polygon points="1196.4,9.6 1197.9,8.1 1199.4,9.6 1197.9,11.1" fill="#222" stroke="none" stroke-width="0" stroke-linejoin="round" />
<path d="M423.9 225.4 C424.4 223.1 424.1 219 426.7 211.7 C429.2 204.4 432.5 193.4 439.2 181.7 C445.9 170 456.6 153.1 466.7 141.7 C476.8 130.3 488.9 119.8 500 113.3 C511.1 106.8 525 104.6 533.3 102.5 C541.6 100.4 543.9 100.6 550 100.8 C556.1 101 561.8 101.1 570.2 103.6 C578.6 106.1 590.4 110.7 600.4 115.7 C610.4 120.7 620.5 127.3 630.5 133.8 C640.5 140.3 651.6 147.6 660.7 154.9 C669.8 162.2 677.9 169.7 684.9 177.5 C691.9 185.3 698 193.6 703 201.7 C708 209.8 712 217.8 715 225.8 C718 233.9 719.9 242.4 721.1 250 C722.3 257.6 722.5 264.6 722 271.1 C721.5 277.6 720.2 283.9 718 289.2 C715.8 294.5 712.5 299.3 709 302.8 C705.5 306.3 701.4 308.7 696.9 310.3 C692.4 311.9 686.3 312.9 681.8 312.7 C677.3 312.4 673.6 311.2 669.8 308.8 C666 306.4 662.5 302.5 659.2 298.2 C655.9 293.9 653.5 289.6 650.2 283.1 C646.9 276.6 643.4 267.6 639.6 259 C635.8 250.4 632 240.4 627.5 231.8 C623 223.2 617.9 215.2 612.4 207.7 C606.9 200.2 601.3 192.9 594.3 186.6 C587.3 180.3 579 174.6 570.2 170 C561.4 165.4 550.6 161.8 541.7 159.2 C532.8 156.6 525 154.3 516.7 154.2 C508.4 154 500 155.1 491.7 158.3 C483.4 161.5 475.4 166.4 466.7 173.3 C457.9 180.2 445.5 192.9 439.2 200 C432.9 207.1 431.6 211.8 429 216 C426.4 220.2 424.8 223.8 423.9 225.4Z M536 218.8 C530 218.4 523.6 219.1 516.7 220.8 C509.8 222.5 501.9 225.6 494.5 229 C487.1 232.4 479.8 236.4 472.4 241.5 C465 246.6 457.2 253 450.3 259.5 C443.4 266 436.9 272.7 430.9 280.3 C424.9 287.9 419.4 296.4 414.3 305.2 C409.2 313.9 404.3 323.6 400.4 332.8 C396.5 342 393.4 351.3 390.8 360.5 C388.2 369.7 386.4 378.7 384.5 388.2 C382.6 397.7 380.2 410 379.5 417.5 C378.8 425 379 427.6 380.5 433.3 C382 439 385.1 446.1 388.3 451.7 C391.6 457.3 395.3 462.3 400 466.7 C404.7 471.1 410.6 475.4 416.7 478.3 C422.8 481.2 430 483.1 436.7 484.2 C443.4 485.3 450 485.3 456.7 485 C463.4 484.7 468.9 483.9 476.7 482.5 C484.5 481.1 494.7 478.9 503.3 476.7 C511.9 474.5 519.4 472 528.3 469.2 C537.2 466.4 552 461.5 556.7 460 C553.4 460.7 544.2 462.8 536.7 464.2 C529.2 465.6 520 467.2 511.7 468.3 C503.4 469.4 494.8 470.2 486.7 470.8 C478.6 471.4 470.2 471.8 463.3 471.7 C456.4 471.6 450.8 471.2 445 470 C439.2 468.8 432.8 467 428.3 464.2 C423.9 461.4 420.7 457.6 418.3 453.3 C415.9 449 414.2 443.4 414.2 438.3 C414.2 433.2 415.7 428.2 418.5 423 C421.3 417.8 425.7 414.2 431 407 C436.3 399.8 444.3 388.1 450.3 379.9 C456.3 371.7 461.4 364.6 466.9 357.7 C472.4 350.8 477.5 344.8 483.5 338.4 C489.5 331.9 496.4 325 502.8 319 C509.2 313 515.7 307.5 522.2 302.4 C528.7 297.3 535.6 293.2 541.6 288.6 C547.6 284 553.8 279.1 558.2 274.7 C562.6 270.3 565.8 266.9 567.9 262.3 C570 257.7 571.1 251.8 570.6 247 C570.1 242.2 568.1 237.1 565.1 233.2 C562.1 229.3 557.5 225.9 552.6 223.5 C547.8 221.1 542 219.2 536 218.8Z M757.3 294.7 C760 296 768 299.4 773.3 302.7 C778.6 306 784.4 310 789.3 314.7 C794.2 319.4 798.7 324.9 802.7 330.7 C806.7 336.5 810.4 342.6 813.3 349.3 C816.2 356 818.4 363.6 820 370.7 C821.6 377.8 822.7 384.9 822.7 392 C822.7 399.1 821.8 406.2 820 413.3 C818.2 420.4 815.5 428 812 434.7 C808.5 441.4 803.8 448 798.7 453.3 C793.6 458.6 787.8 462.9 781.3 466.7 C774.8 470.5 768 473.8 760 476 C752 478.2 742.2 479.6 733.3 480 C724.4 480.4 715.6 479.8 706.7 478.7 C697.8 477.6 688.9 475.3 680 473.3 C671.1 471.3 662.2 469.4 653.3 466.7 C644.4 464 635.6 460.6 626.7 457.3 C617.8 454 608.9 450.5 600 446.7 C591.1 442.9 581.3 438.7 573.3 434.7 C565.3 430.7 558.2 426.7 552 422.7 C545.8 418.7 539.8 414.9 536 410.7 C532.2 406.5 530.2 401.8 529.3 397.3 C528.4 392.9 529.1 388 530.7 384 C532.3 380 535.2 376.1 538.7 373.3 C542.2 370.6 546.7 368.6 552 367.5 C557.3 366.4 564 366.2 570.7 366.7 C577.4 367.2 584.9 368.7 592 370.7 C599.1 372.7 606.2 375.8 613.3 378.7 C620.4 381.6 627.6 384.9 634.7 388 C641.8 391.1 648.5 394.4 656 397.3 C663.5 400.2 671.5 403.1 680 405.3 C688.5 407.5 698.2 409.8 706.7 410.7 C715.2 411.6 723.2 411.4 730.7 410.7 C738.2 410 745.8 408.7 752 406.7 C758.2 404.7 763.5 402 768 398.7 C772.5 395.4 775.8 391.4 778.7 386.7 C781.6 382 784 376.5 785.3 370.7 C786.6 364.9 787.1 358.2 786.7 352 C786.3 345.8 784.9 339.5 782.7 333.3 C780.5 327.1 776.6 320 773.3 314.7 C770 309.4 765.4 304.6 762.7 301.3 C760 298 758.2 295.8 757.3 294.7Z" fill="none" stroke="#000" stroke-opacity="0.10" stroke-width="4.2" stroke-linejoin="round"/>
<path d="M423.9 225.4 C424.4 223.1 424.1 219 426.7 211.7 C429.2 204.4 432.5 193.4 439.2 181.7 C445.9 170 456.6 153.1 466.7 141.7 C476.8 130.3 488.9 119.8 500 113.3 C511.1 106.8 525 104.6 533.3 102.5 C541.6 100.4 543.9 100.6 550 100.8 C556.1 101 561.8 101.1 570.2 103.6 C578.6 106.1 590.4 110.7 600.4 115.7 C610.4 120.7 620.5 127.3 630.5 133.8 C640.5 140.3 651.6 147.6 660.7 154.9 C669.8 162.2 677.9 169.7 684.9 177.5 C691.9 185.3 698 193.6 703 201.7 C708 209.8 712 217.8 715 225.8 C718 233.9 719.9 242.4 721.1 250 C722.3 257.6 722.5 264.6 722 271.1 C721.5 277.6 720.2 283.9 718 289.2 C715.8 294.5 712.5 299.3 709 302.8 C705.5 306.3 701.4 308.7 696.9 310.3 C692.4 311.9 686.3 312.9 681.8 312.7 C677.3 312.4 673.6 311.2 669.8 308.8 C666 306.4 662.5 302.5 659.2 298.2 C655.9 293.9 653.5 289.6 650.2 283.1 C646.9 276.6 643.4 267.6 639.6 259 C635.8 250.4 632 240.4 627.5 231.8 C623 223.2 617.9 215.2 612.4 207.7 C606.9 200.2 601.3 192.9 594.3 186.6 C587.3 180.3 579 174.6 570.2 170 C561.4 165.4 550.6 161.8 541.7 159.2 C532.8 156.6 525 154.3 516.7 154.2 C508.4 154 500 155.1 491.7 158.3 C483.4 161.5 475.4 166.4 466.7 173.3 C457.9 180.2 445.5 192.9 439.2 200 C432.9 207.1 431.6 211.8 429 216 C426.4 220.2 424.8 223.8 423.9 225.4Z M536 218.8 C530 218.4 523.6 219.1 516.7 220.8 C509.8 222.5 501.9 225.6 494.5 229 C487.1 232.4 479.8 236.4 472.4 241.5 C465 246.6 457.2 253 450.3 259.5 C443.4 266 436.9 272.7 430.9 280.3 C424.9 287.9 419.4 296.4 414.3 305.2 C409.2 313.9 404.3 323.6 400.4 332.8 C396.5 342 393.4 351.3 390.8 360.5 C388.2 369.7 386.4 378.7 384.5 388.2 C382.6 397.7 380.2 410 379.5 417.5 C378.8 425 379 427.6 380.5 433.3 C382 439 385.1 446.1 388.3 451.7 C391.6 457.3 395.3 462.3 400 466.7 C404.7 471.1 410.6 475.4 416.7 478.3 C422.8 481.2 430 483.1 436.7 484.2 C443.4 485.3 450 485.3 456.7 485 C463.4 484.7 468.9 483.9 476.7 482.5 C484.5 481.1 494.7 478.9 503.3 476.7 C511.9 474.5 519.4 472 528.3 469.2 C537.2 466.4 552 461.5 556.7 460 C553.4 460.7 544.2 462.8 536.7 464.2 C529.2 465.6 520 467.2 511.7 468.3 C503.4 469.4 494.8 470.2 486.7 470.8 C478.6 471.4 470.2 471.8 463.3 471.7 C456.4 471.6 450.8 471.2 445 470 C439.2 468.8 432.8 467 428.3 464.2 C423.9 461.4 420.7 457.6 418.3 453.3 C415.9 449 414.2 443.4 414.2 438.3 C414.2 433.2 415.7 428.2 418.5 423 C421.3 417.8 425.7 414.2 431 407 C436.3 399.8 444.3 388.1 450.3 379.9 C456.3 371.7 461.4 364.6 466.9 357.7 C472.4 350.8 477.5 344.8 483.5 338.4 C489.5 331.9 496.4 325 502.8 319 C509.2 313 515.7 307.5 522.2 302.4 C528.7 297.3 535.6 293.2 541.6 288.6 C547.6 284 553.8 279.1 558.2 274.7 C562.6 270.3 565.8 266.9 567.9 262.3 C570 257.7 571.1 251.8 570.6 247 C570.1 242.2 568.1 237.1 565.1 233.2 C562.1 229.3 557.5 225.9 552.6 223.5 C547.8 221.1 542 219.2 536 218.8Z M757.3 294.7 C760 296 768 299.4 773.3 302.7 C778.6 306 784.4 310 789.3 314.7 C794.2 319.4 798.7 324.9 802.7 330.7 C806.7 336.5 810.4 342.6 813.3 349.3 C816.2 356 818.4 363.6 820 370.7 C821.6 377.8 822.7 384.9 822.7 392 C822.7 399.1 821.8 406.2 820 413.3 C818.2 420.4 815.5 428 812 434.7 C808.5 441.4 803.8 448 798.7 453.3 C793.6 458.6 787.8 462.9 781.3 466.7 C774.8 470.5 768 473.8 760 476 C752 478.2 742.2 479.6 733.3 480 C724.4 480.4 715.6 479.8 706.7 478.7 C697.8 477.6 688.9 475.3 680 473.3 C671.1 471.3 662.2 469.4 653.3 466.7 C644.4 464 635.6 460.6 626.7 457.3 C617.8 454 608.9 450.5 600 446.7 C591.1 442.9 581.3 438.7 573.3 434.7 C565.3 430.7 558.2 426.7 552 422.7 C545.8 418.7 539.8 414.9 536 410.7 C532.2 406.5 530.2 401.8 529.3 397.3 C528.4 392.9 529.1 388 530.7 384 C532.3 380 535.2 376.1 538.7 373.3 C542.2 370.6 546.7 368.6 552 367.5 C557.3 366.4 564 366.2 570.7 366.7 C577.4 367.2 584.9 368.7 592 370.7 C599.1 372.7 606.2 375.8 613.3 378.7 C620.4 381.6 627.6 384.9 634.7 388 C641.8 391.1 648.5 394.4 656 397.3 C663.5 400.2 671.5 403.1 680 405.3 C688.5 407.5 698.2 409.8 706.7 410.7 C715.2 411.6 723.2 411.4 730.7 410.7 C738.2 410 745.8 408.7 752 406.7 C758.2 404.7 763.5 402 768 398.7 C772.5 395.4 775.8 391.4 778.7 386.7 C781.6 382 784 376.5 785.3 370.7 C786.6 364.9 787.1 358.2 786.7 352 C786.3 345.8 784.9 339.5 782.7 333.3 C780.5 327.1 776.6 320 773.3 314.7 C770 309.4 765.4 304.6 762.7 301.3 C760 298 758.2 295.8 757.3 294.7Z" fill="none" stroke="#1c1c1c" stroke-opacity="0.50" stroke-width="2.3" stroke-linejoin="round"/>
<g class="wm" font-size="143.2">
<text y="672.4" class="wl" xml:space="preserve"><tspan x="124" textLength="93.5" lengthAdjust="spacingAndGlyphs">Д</tspan><tspan x="224.1" textLength="92.5" lengthAdjust="spacingAndGlyphs">И</tspan><tspan x="322.5" textLength="92.6" lengthAdjust="spacingAndGlyphs">Н</tspan><tspan x="420.8" textLength="81" lengthAdjust="spacingAndGlyphs">А</tspan><tspan x="510.6" textLength="105.8" lengthAdjust="spacingAndGlyphs">М</tspan><tspan x="623.6" textLength="91.3" lengthAdjust="spacingAndGlyphs">И</tspan><tspan x="720.3" textLength="84.7" lengthAdjust="spacingAndGlyphs">К</tspan><tspan x="811.8" textLength="79" lengthAdjust="spacingAndGlyphs">А</tspan><tspan x="908.9" textLength="10" lengthAdjust="spacingAndGlyphs"> </tspan><tspan x="928.9" textLength="72.6" lengthAdjust="spacingAndGlyphs">7</tspan><tspan x="1007.6" textLength="75.4" lengthAdjust="spacingAndGlyphs">6</tspan></text>
</g>
</svg>
</body>
</html>
